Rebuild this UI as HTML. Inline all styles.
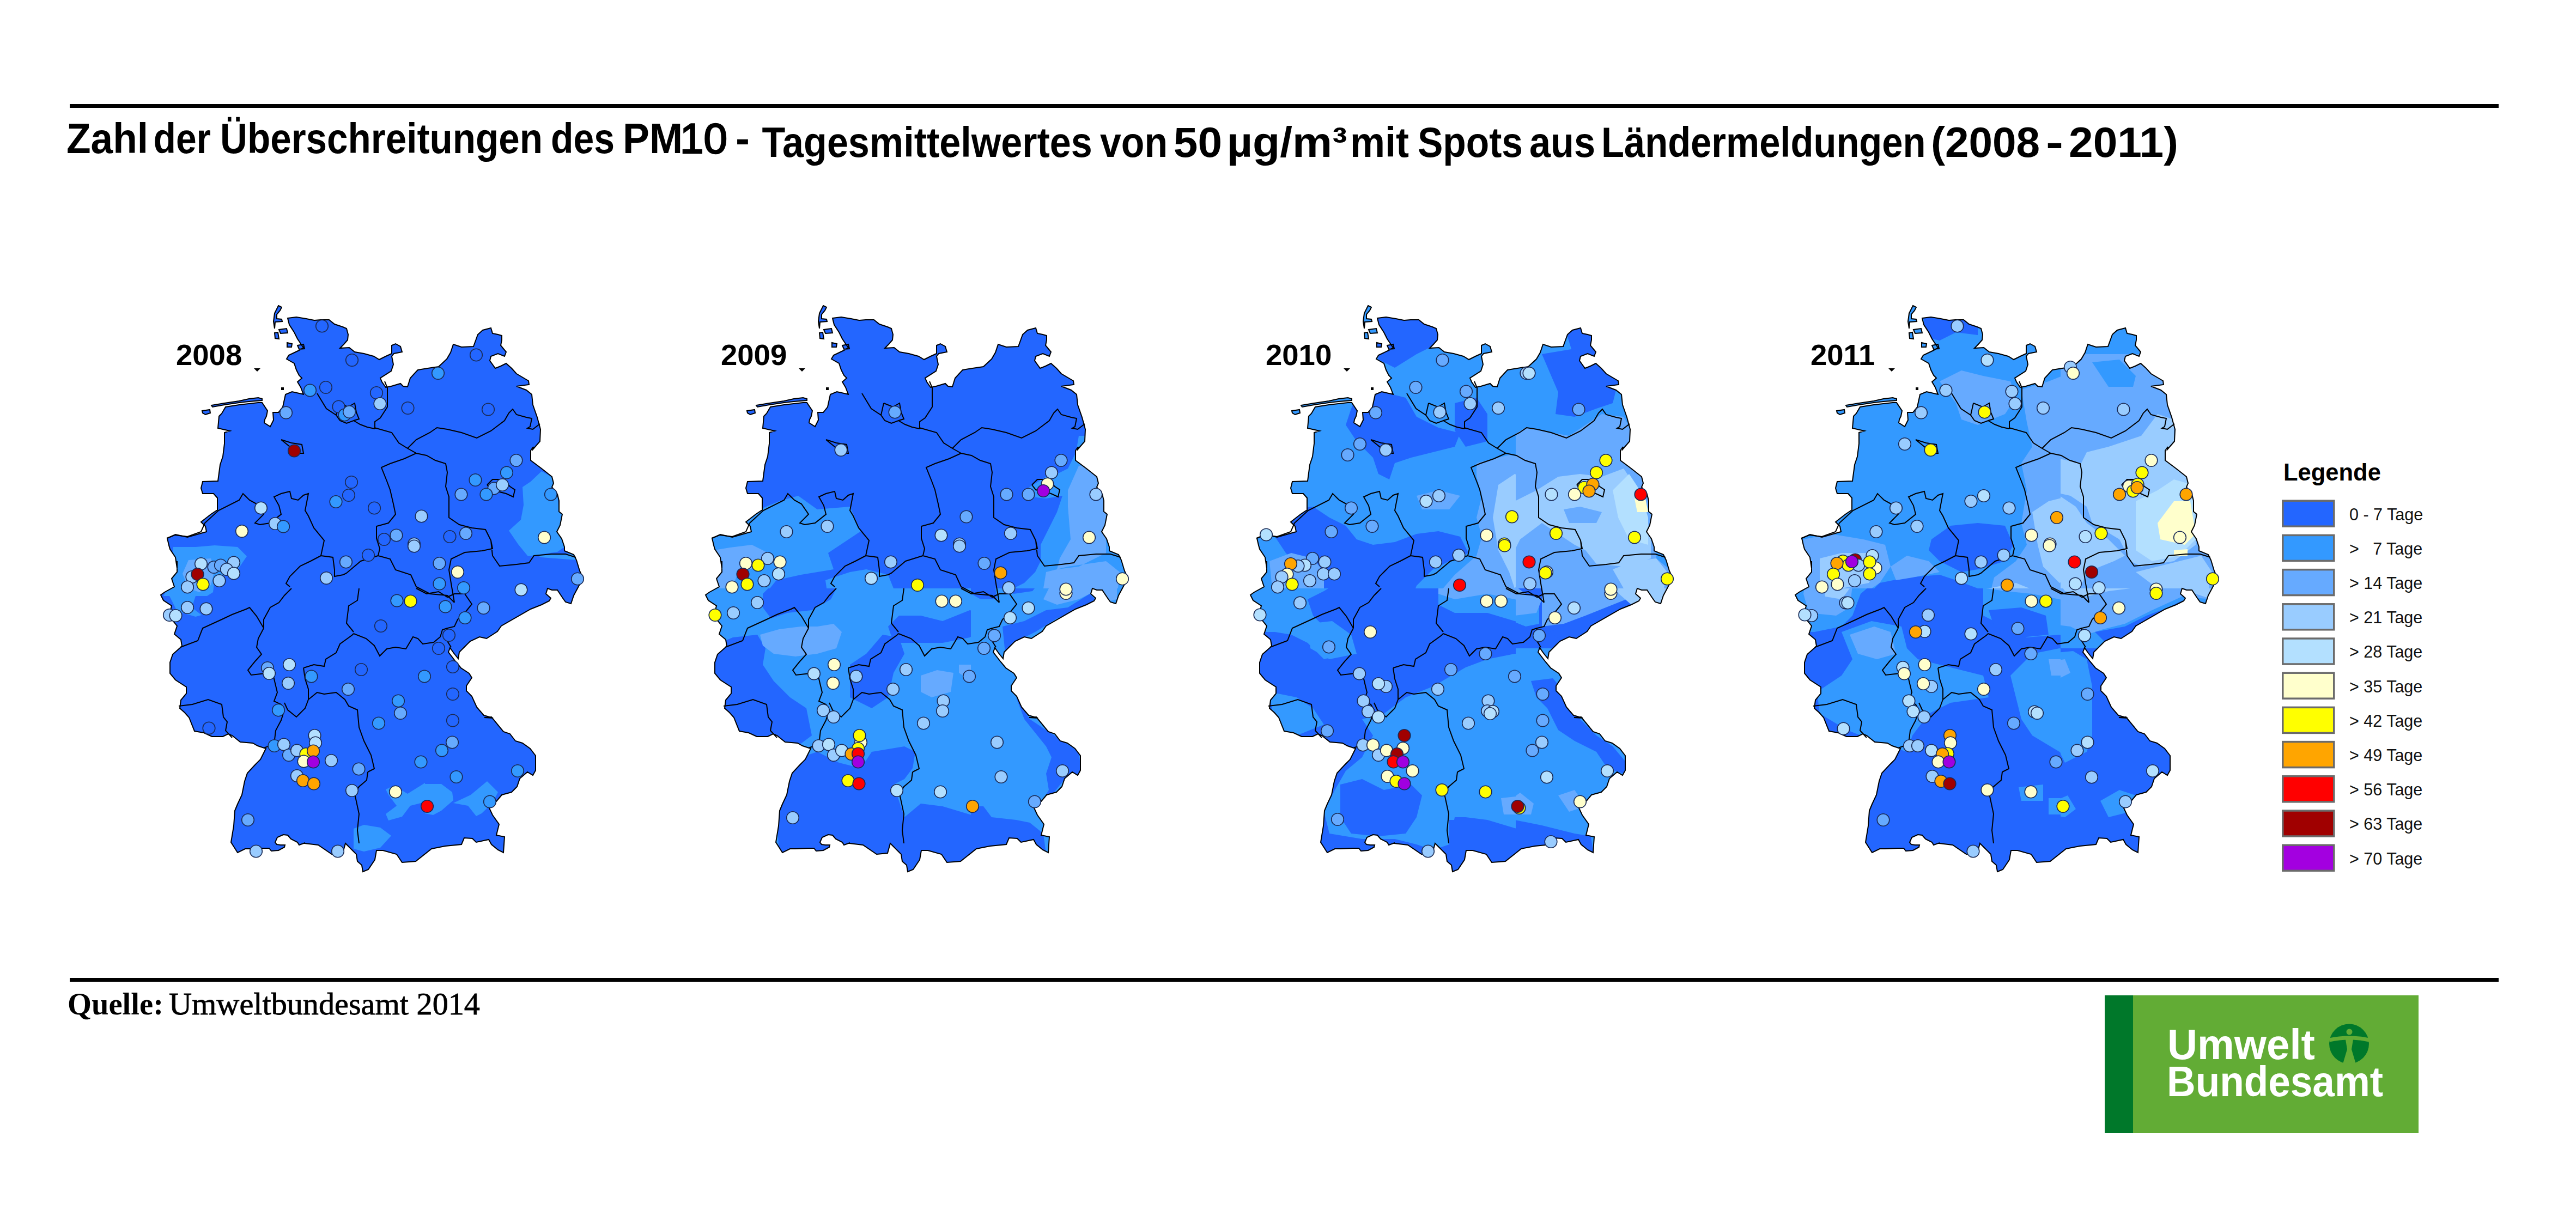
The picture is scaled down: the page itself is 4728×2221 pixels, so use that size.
<!DOCTYPE html><html><head><meta charset="utf-8"><style>
html,body{margin:0;padding:0;background:#fff;width:4728px;height:2221px;overflow:hidden}
svg{position:absolute;left:0;top:0}
</style></head><body>
<svg width="4728" height="2221" viewBox="0 0 4728 2221">
<rect x="128" y="191" width="4458" height="7" fill="#000"/>
<rect x="128" y="1795" width="4458" height="7" fill="#000"/>
<text x="122.0" y="281" textLength="150.0" lengthAdjust="spacingAndGlyphs" font-size="78" font-weight="bold" font-family="Liberation Sans">Zahl</text>
<text x="281.5" y="281" textLength="105.5" lengthAdjust="spacingAndGlyphs" font-size="78" font-weight="bold" font-family="Liberation Sans">der</text>
<text x="404.0" y="281" textLength="592.0" lengthAdjust="spacingAndGlyphs" font-size="78" font-weight="bold" font-family="Liberation Sans">Überschreitungen</text>
<text x="1011.0" y="281" textLength="117.0" lengthAdjust="spacingAndGlyphs" font-size="78" font-weight="bold" font-family="Liberation Sans">des</text>
<text x="1143.0" y="281" textLength="110.0" lengthAdjust="spacingAndGlyphs" font-size="78" font-weight="bold" font-family="Liberation Sans">PM</text>
<text x="1248.0" y="281" textLength="87.0" lengthAdjust="spacingAndGlyphs" font-size="78" font-weight="normal" font-family="Liberation Sans" stroke="#000" stroke-width="2.5">10</text>
<text x="1350.0" y="281" textLength="26.0" lengthAdjust="spacingAndGlyphs" font-size="78" font-weight="bold" font-family="Liberation Sans">-</text>
<text x="1398.5" y="288" textLength="606.3" lengthAdjust="spacingAndGlyphs" font-size="78" font-weight="bold" font-family="Liberation Sans">Tagesmittelwertes</text>
<text x="2019.0" y="288" textLength="124.0" lengthAdjust="spacingAndGlyphs" font-size="78" font-weight="bold" font-family="Liberation Sans">von</text>
<text x="2153.8" y="288" textLength="89.2" lengthAdjust="spacingAndGlyphs" font-size="78" font-weight="bold" font-family="Liberation Sans">50</text>
<text x="2251.8" y="288" textLength="220.7" lengthAdjust="spacingAndGlyphs" font-size="78" font-weight="bold" font-family="Liberation Sans">µg/m³</text>
<text x="2478.0" y="288" textLength="108.0" lengthAdjust="spacingAndGlyphs" font-size="78" font-weight="bold" font-family="Liberation Sans">mit</text>
<text x="2602.0" y="288" textLength="193.0" lengthAdjust="spacingAndGlyphs" font-size="78" font-weight="bold" font-family="Liberation Sans">Spots</text>
<text x="2807.0" y="288" textLength="121.0" lengthAdjust="spacingAndGlyphs" font-size="78" font-weight="bold" font-family="Liberation Sans">aus</text>
<text x="2939.0" y="288" textLength="595.5" lengthAdjust="spacingAndGlyphs" font-size="78" font-weight="bold" font-family="Liberation Sans">Ländermeldungen</text>
<text x="3544.0" y="288" textLength="200.0" lengthAdjust="spacingAndGlyphs" font-size="78" font-weight="bold" font-family="Liberation Sans">(2008</text>
<text x="3755.0" y="288" textLength="32.0" lengthAdjust="spacingAndGlyphs" font-size="78" font-weight="bold" font-family="Liberation Sans">-</text>
<text x="3797.0" y="288" textLength="201.0" lengthAdjust="spacingAndGlyphs" font-size="78" font-weight="bold" font-family="Liberation Sans">2011)</text>

<defs><clipPath id="de"><path d="M528,584 L544,582 L562,585 L577,588 L589,587 L604,587 L614,595 L629,600 L636,603 L639,614 L638,624 L631,632 L624,639 L641,638 L651,646 L668,649 L686,654 L696,660 L708,654 L719,649 L719,634 L726,631 L735,636 L738,646 L723,649 L719,654 L722,669 L718,681 L698,694 L701,701 L708,711 L718,709 L735,704 L740,709 L748,710 L753,694 L765,681 L767,679 L785,676 L805,673 L820,659 L827,647 L832,632 L847,637 L869,636 L877,614 L886,606 L901,602 L904,612 L914,614 L921,616 L921,624 L919,634 L929,646 L926,654 L914,649 L901,654 L899,662 L909,676 L919,672 L929,667 L939,676 L948,686 L970,699 L971,706 L948,709 L966,716 L976,724 L978,743 L986,766 L992,788 L991,810 L978,825 L979,820 L974,827 L974,845 L994,860 L1013,875 L1016,887 L1013,894 L1023,907 L1026,919 L1026,939 L1032,944 L1028,964 L1022,976 L1031,989 L1036,1004 L1036,1011 L1053,1018 L1058,1028 L1064,1048 L1070,1061 L1061,1078 L1053,1093 L1048,1108 L1038,1105 L1033,1098 L1023,1083 L1013,1083 L1005,1080 L1002,1090 L1011,1098 L1008,1103 L994,1110 L974,1118 L920,1149 L913,1159 L893,1172 L880,1169 L863,1177 L853,1187 L843,1197 L841,1209 L833,1199 L826,1189 L823,1197 L836,1214 L846,1226 L861,1236 L866,1244 L856,1259 L856,1268 L866,1278 L875,1298 L888,1313 L905,1318 L889,1317 L902,1316 L924,1343 L936,1347 L946,1360 L959,1364 L973,1374 L983,1387 L983,1414 L978,1423 L968,1417 L954,1429 L949,1444 L939,1454 L921,1459 L911,1471 L897,1481 L904,1496 L916,1513 L911,1533 L926,1536 L924,1565 L914,1560 L902,1550 L897,1541 L874,1546 L867,1539 L852,1538 L847,1550 L817,1553 L792,1558 L763,1581 L738,1583 L728,1568 L703,1561 L691,1561 L688,1578 L676,1596 L666,1600 L664,1588 L656,1581 L654,1568 L634,1548 L629,1566 L609,1568 L584,1551 L559,1548 L560,1547 L549,1551 L546,1546 L534,1540 L528,1533 L520,1532 L509,1537 L505,1546 L508,1550 L515,1551 L523,1551 L522,1555 L511,1561 L498,1562 L494,1557 L483,1557 L459,1558 L450,1558 L436,1565 L431,1557 L424,1546 L429,1516 L431,1488 L436,1476 L444,1459 L449,1434 L454,1419 L468,1404 L478,1394 L488,1374 L473,1369 L464,1364 L441,1362 L426,1350 L419,1347 L409,1352 L389,1352 L374,1345 L357,1342 L347,1317 L339,1308 L330,1300 L332,1285 L342,1273 L342,1261 L322,1248 L312,1236 L312,1216 L317,1201 L325,1194 L334,1186 L332,1174 L320,1164 L325,1149 L317,1139 L312,1124 L315,1112 L300,1102 L295,1092 L302,1087 L320,1077 L315,1062 L325,1050 L325,1030 L325,1043 L322,1023 L312,1008 L310,1001 L307,988 L322,981 L344,986 L372,978 L379,976 L377,966 L369,958 L387,944 L399,936 L399,914 L392,906 L372,906 L369,896 L372,884 L400,883 L404,853 L409,838 L412,814 L412,794 L422,791 L400,786 L402,764 L407,759 L414,747 L439,743 L474,739 L481,739 L491,754 L489,764 L486,770 L485,776 L496,783 L502,771 L501,757 L511,757 L519,747 L524,724 L536,719 L558,724 L557,724 L552,711 L546,701 L554,694 L549,689 L544,679 L540,667 L526,659 L530,652 L549,643 L557,638 L554,634 L546,622 L540,610 L531,596ZM511,561 L517,564 L514,570 L508,577 L508,585 L517,586 L518,590 L505,591 L504,603 L502,590 L504,575ZM512,605 L526,603 L528,611 L515,612ZM504,611 L510,610 L512,622 L505,621ZM527,629 L536,631 L535,637 L527,637ZM546,634 L557,632 L559,640 L549,641ZM388,744 L412,740 L439,736 L457,732 L474,730 L481,732 L481,735 L457,737 L439,739 L412,743 L390,747ZM371,754 L385,752 L386,758 L377,761 L372,758Z"/></clipPath><clipPath id="c0_0"><rect x="0" y="0" width="782" height="1080"/></clipPath><clipPath id="c0_1080"><rect x="0" y="1080" width="782" height="920"/></clipPath><clipPath id="c782_0"><rect x="782" y="0" width="518" height="1080"/></clipPath><clipPath id="c782_1080"><rect x="782" y="1080" width="518" height="920"/></clipPath></defs><g transform="translate(0,0)"><path d="M466,676 L478,676 L472,682Z M516,711 L521,711 L521,716 L516,716Z" fill="#000"/><path d="M528,584 L544,582 L562,585 L577,588 L589,587 L604,587 L614,595 L629,600 L636,603 L639,614 L638,624 L631,632 L624,639 L641,638 L651,646 L668,649 L686,654 L696,660 L708,654 L719,649 L719,634 L726,631 L735,636 L738,646 L723,649 L719,654 L722,669 L718,681 L698,694 L701,701 L708,711 L718,709 L735,704 L740,709 L748,710 L753,694 L765,681 L767,679 L785,676 L805,673 L820,659 L827,647 L832,632 L847,637 L869,636 L877,614 L886,606 L901,602 L904,612 L914,614 L921,616 L921,624 L919,634 L929,646 L926,654 L914,649 L901,654 L899,662 L909,676 L919,672 L929,667 L939,676 L948,686 L970,699 L971,706 L948,709 L966,716 L976,724 L978,743 L986,766 L992,788 L991,810 L978,825 L979,820 L974,827 L974,845 L994,860 L1013,875 L1016,887 L1013,894 L1023,907 L1026,919 L1026,939 L1032,944 L1028,964 L1022,976 L1031,989 L1036,1004 L1036,1011 L1053,1018 L1058,1028 L1064,1048 L1070,1061 L1061,1078 L1053,1093 L1048,1108 L1038,1105 L1033,1098 L1023,1083 L1013,1083 L1005,1080 L1002,1090 L1011,1098 L1008,1103 L994,1110 L974,1118 L920,1149 L913,1159 L893,1172 L880,1169 L863,1177 L853,1187 L843,1197 L841,1209 L833,1199 L826,1189 L823,1197 L836,1214 L846,1226 L861,1236 L866,1244 L856,1259 L856,1268 L866,1278 L875,1298 L888,1313 L905,1318 L889,1317 L902,1316 L924,1343 L936,1347 L946,1360 L959,1364 L973,1374 L983,1387 L983,1414 L978,1423 L968,1417 L954,1429 L949,1444 L939,1454 L921,1459 L911,1471 L897,1481 L904,1496 L916,1513 L911,1533 L926,1536 L924,1565 L914,1560 L902,1550 L897,1541 L874,1546 L867,1539 L852,1538 L847,1550 L817,1553 L792,1558 L763,1581 L738,1583 L728,1568 L703,1561 L691,1561 L688,1578 L676,1596 L666,1600 L664,1588 L656,1581 L654,1568 L634,1548 L629,1566 L609,1568 L584,1551 L559,1548 L560,1547 L549,1551 L546,1546 L534,1540 L528,1533 L520,1532 L509,1537 L505,1546 L508,1550 L515,1551 L523,1551 L522,1555 L511,1561 L498,1562 L494,1557 L483,1557 L459,1558 L450,1558 L436,1565 L431,1557 L424,1546 L429,1516 L431,1488 L436,1476 L444,1459 L449,1434 L454,1419 L468,1404 L478,1394 L488,1374 L473,1369 L464,1364 L441,1362 L426,1350 L419,1347 L409,1352 L389,1352 L374,1345 L357,1342 L347,1317 L339,1308 L330,1300 L332,1285 L342,1273 L342,1261 L322,1248 L312,1236 L312,1216 L317,1201 L325,1194 L334,1186 L332,1174 L320,1164 L325,1149 L317,1139 L312,1124 L315,1112 L300,1102 L295,1092 L302,1087 L320,1077 L315,1062 L325,1050 L325,1030 L325,1043 L322,1023 L312,1008 L310,1001 L307,988 L322,981 L344,986 L372,978 L379,976 L377,966 L369,958 L387,944 L399,936 L399,914 L392,906 L372,906 L369,896 L372,884 L400,883 L404,853 L409,838 L412,814 L412,794 L422,791 L400,786 L402,764 L407,759 L414,747 L439,743 L474,739 L481,739 L491,754 L489,764 L486,770 L485,776 L496,783 L502,771 L501,757 L511,757 L519,747 L524,724 L536,719 L558,724 L557,724 L552,711 L546,701 L554,694 L549,689 L544,679 L540,667 L526,659 L530,652 L549,643 L557,638 L554,634 L546,622 L540,610 L531,596ZM511,561 L517,564 L514,570 L508,577 L508,585 L517,586 L518,590 L505,591 L504,603 L502,590 L504,575ZM512,605 L526,603 L528,611 L515,612ZM504,611 L510,610 L512,622 L505,621ZM527,629 L536,631 L535,637 L527,637ZM546,634 L557,632 L559,640 L549,641ZM388,744 L412,740 L439,736 L457,732 L474,730 L481,732 L481,735 L457,737 L439,739 L412,743 L390,747ZM371,754 L385,752 L386,758 L377,761 L372,758Z" fill="#2366ff"/><g clip-path="url(#de)"><path d="M318,1004 L359,1004 L394,1001 L436,1004 L453,1021 L436,1046 L394,1063 L391,1087 L380,1094 L359,1094 L352,1115 L370,1129 L359,1132 L325,1122 L311,1094 L300,1094 L311,1074Z" fill="#3399ff"/><path d="M346,1028 L387,1025 L394,1046 L387,1074 L366,1087 L346,1080 L335,1053Z" fill="#66aaff"/><path d="M994,865 L1016,877 L1023,907 L1026,939 L1031,944 L1028,964 L1021,976 L1031,989 L1036,1004 L1023,1013 L969,1021 L951,999 L934,974 L956,954 L961,927 L959,894 L974,884ZM981,1018 L1053,1016 L1058,1028 L994,1023Z" fill="#3399ff"/><path d="M780,1439 L810,1439 L830,1454 L832,1469 L810,1488 L795,1496 L780,1493ZM832,1474 L864,1459 L894,1434 L914,1454 L904,1474 L884,1493 L874,1498 L859,1479Z" fill="#3399ff"/><path d="M649,1521 L668,1514 L698,1519 L718,1534 L698,1556 L668,1563 L649,1558ZM708,1449 L723,1442 L748,1457 L780,1437 L780,1472 L753,1479 L738,1499 L713,1506 L708,1494 L728,1479 L713,1459Z" fill="#3399ff"/></g><path d="M528,584 L544,582 L562,585 L577,588 L589,587 L604,587 L614,595 L629,600 L636,603 L639,614 L638,624 L631,632 L624,639 L641,638 L651,646 L668,649 L686,654 L696,660 L708,654 L719,649 L719,634 L726,631 L735,636 L738,646 L723,649 L719,654 L722,669 L718,681 L698,694 L701,701 L708,711 L718,709 L735,704 L740,709 L748,710 L753,694 L765,681 L767,679 L785,676 L805,673 L820,659 L827,647 L832,632 L847,637 L869,636 L877,614 L886,606 L901,602 L904,612 L914,614 L921,616 L921,624 L919,634 L929,646 L926,654 L914,649 L901,654 L899,662 L909,676 L919,672 L929,667 L939,676 L948,686 L970,699 L971,706 L948,709 L966,716 L976,724 L978,743 L986,766 L992,788 L991,810 L978,825 L979,820 L974,827 L974,845 L994,860 L1013,875 L1016,887 L1013,894 L1023,907 L1026,919 L1026,939 L1032,944 L1028,964 L1022,976 L1031,989 L1036,1004 L1036,1011 L1053,1018 L1058,1028 L1064,1048 L1070,1061 L1061,1078 L1053,1093 L1048,1108 L1038,1105 L1033,1098 L1023,1083 L1013,1083 L1005,1080 L1002,1090 L1011,1098 L1008,1103 L994,1110 L974,1118 L920,1149 L913,1159 L893,1172 L880,1169 L863,1177 L853,1187 L843,1197 L841,1209 L833,1199 L826,1189 L823,1197 L836,1214 L846,1226 L861,1236 L866,1244 L856,1259 L856,1268 L866,1278 L875,1298 L888,1313 L905,1318 L889,1317 L902,1316 L924,1343 L936,1347 L946,1360 L959,1364 L973,1374 L983,1387 L983,1414 L978,1423 L968,1417 L954,1429 L949,1444 L939,1454 L921,1459 L911,1471 L897,1481 L904,1496 L916,1513 L911,1533 L926,1536 L924,1565 L914,1560 L902,1550 L897,1541 L874,1546 L867,1539 L852,1538 L847,1550 L817,1553 L792,1558 L763,1581 L738,1583 L728,1568 L703,1561 L691,1561 L688,1578 L676,1596 L666,1600 L664,1588 L656,1581 L654,1568 L634,1548 L629,1566 L609,1568 L584,1551 L559,1548 L560,1547 L549,1551 L546,1546 L534,1540 L528,1533 L520,1532 L509,1537 L505,1546 L508,1550 L515,1551 L523,1551 L522,1555 L511,1561 L498,1562 L494,1557 L483,1557 L459,1558 L450,1558 L436,1565 L431,1557 L424,1546 L429,1516 L431,1488 L436,1476 L444,1459 L449,1434 L454,1419 L468,1404 L478,1394 L488,1374 L473,1369 L464,1364 L441,1362 L426,1350 L419,1347 L409,1352 L389,1352 L374,1345 L357,1342 L347,1317 L339,1308 L330,1300 L332,1285 L342,1273 L342,1261 L322,1248 L312,1236 L312,1216 L317,1201 L325,1194 L334,1186 L332,1174 L320,1164 L325,1149 L317,1139 L312,1124 L315,1112 L300,1102 L295,1092 L302,1087 L320,1077 L315,1062 L325,1050 L325,1030 L325,1043 L322,1023 L312,1008 L310,1001 L307,988 L322,981 L344,986 L372,978 L379,976 L377,966 L369,958 L387,944 L399,936 L399,914 L392,906 L372,906 L369,896 L372,884 L400,883 L404,853 L409,838 L412,814 L412,794 L422,791 L400,786 L402,764 L407,759 L414,747 L439,743 L474,739 L481,739 L491,754 L489,764 L486,770 L485,776 L496,783 L502,771 L501,757 L511,757 L519,747 L524,724 L536,719 L558,724 L557,724 L552,711 L546,701 L554,694 L549,689 L544,679 L540,667 L526,659 L530,652 L549,643 L557,638 L554,634 L546,622 L540,610 L531,596ZM511,561 L517,564 L514,570 L508,577 L508,585 L517,586 L518,590 L505,591 L504,603 L502,590 L504,575ZM512,605 L526,603 L528,611 L515,612ZM504,611 L510,610 L512,622 L505,621ZM527,629 L536,631 L535,637 L527,637ZM546,634 L557,632 L559,640 L549,641ZM388,744 L412,740 L439,736 L457,732 L474,730 L481,732 L481,735 L457,737 L439,739 L412,743 L390,747ZM371,754 L385,752 L386,758 L377,761 L372,758Z" fill="none" stroke="#000" stroke-width="2"/><path d="M582,722 L599,750 L617,762 L624,772 L636,777 L649,772 L661,779 L674,784 L688,787M622,740 L639,747 L651,740 L654,757 L659,769 L649,772M622,740 L617,762M688,787 L688,774 L698,767 L711,747 L711,712 L706,700M687,785 L719,794 L732,813 L748,823 L764,832M748,823 L764,807 L789,794 L802,785 L821,788 L847,794 L875,804 L901,791 L926,772 L934,758 L941,751 L948,761 L966,766 L976,768 L973,783 L968,786 L978,788 L991,778M306,988 L321,982 L344,985 L369,976 L376,960 L401,937 L439,918 L446,906 L458,918 L471,925 L484,944 L468,960 L477,963 L496,960 L516,944 L512,928 L503,912 L516,906 L532,902 L535,915 L547,918 L557,909 L566,906 L560,937 L566,947 L576,969 L595,992 L589,1020M516,807 L535,813 L554,816 L557,832 L541,832 L532,820 L516,807M589,1020 L570,1030 L551,1039 L532,1058 L525,1071 L532,1077M589,1020 L611,1023 L614,1046 L614,1058 L630,1055M764,832 L742,842 L716,851 L700,858 L710,883 L716,899 L722,925 L726,944 L713,960 L691,966 L691,988 L697,1007 L694,1020M694,1020 L662,1030 L636,1052 L630,1055M694,1020 L716,1026 L726,1046 L754,1055 L764,1077 L789,1090 L821,1093 L834,1106M901,992 L904,1007 L885,1011 L853,1014 L828,1026 L824,1046 L828,1071 L834,1106M764,832 L783,836 L799,845 L818,851 L821,867 L818,893 L824,912 L824,931 L824,950 L843,963 L866,969 L891,972 L901,992M901,992 L904,1020 L917,1039 L948,1036 L971,1033 L980,1020 L1012,1017 L1038,1017 L1057,1023M894,890 L904,880 L923,880 L936,893 L945,899 L942,912 L929,906 L913,902 L901,899 L894,890M331,1188 L363,1176 L372,1153 L407,1137 L426,1128 L452,1118 L458,1115 L471,1131 L484,1153M535,1080 L522,1093 L512,1106 L496,1115 L484,1137 L484,1153M484,1153 L474,1172 L471,1188 L480,1201 L468,1214 L455,1230 L461,1239 L487,1236 L500,1233 L503,1246 L509,1271 L503,1287 L516,1293 L522,1303 L516,1322 L506,1341 L503,1366 L484,1373M522,1290 L528,1303 L544,1316 L560,1300 L566,1284 L582,1271 L595,1274M557,1226 L560,1246 L566,1265 L566,1284M557,1226 L576,1220 L595,1223 L598,1210 L617,1198 L624,1182 L646,1166 L649,1163M649,1163 L672,1172 L687,1185 L697,1204 L710,1191 L726,1188 L745,1191 L758,1169 L767,1172 L776,1182 L796,1179 L808,1169 L812,1156 L821,1153M659,1080 L656,1102 L640,1112 L636,1144 L649,1160M595,1274 L617,1271 L633,1284 L640,1296 L656,1303 L659,1335 L668,1360 L681,1386 L687,1411 L675,1417M675,1417 L673,1432 L659,1444 L651,1457 L659,1494 L656,1524 L659,1548M328,1296 L353,1293 L382,1284 L407,1293 L410,1316 L417,1325 L414,1341 L426,1354M764,1080 L783,1090 L805,1086 L821,1096 L834,1090 L853,1090 L866,1109 L853,1125 L840,1137 L834,1150 L821,1153 L818,1172 L828,1188" fill="none" stroke="#000" stroke-width="2"/><circle cx="591.0" cy="598.5" r="11.3" fill="#2366ff" stroke="#1a2a55" stroke-width="1.6"/><circle cx="646.0" cy="661.0" r="11.3" fill="#2366ff" stroke="#1a2a55" stroke-width="1.6"/><circle cx="569.0" cy="716.5" r="11.3" fill="#3399ff" stroke="#1a2a55" stroke-width="1.6"/><circle cx="598.0" cy="711.0" r="11.3" fill="#2366ff" stroke="#1a2a55" stroke-width="1.6"/><circle cx="621.5" cy="746.5" r="11.3" fill="#2366ff" stroke="#1a2a55" stroke-width="1.6"/><circle cx="632.5" cy="761.5" r="11.3" fill="#3399ff" stroke="#1a2a55" stroke-width="1.6"/><circle cx="641.0" cy="756.0" r="11.3" fill="#66aaff" stroke="#1a2a55" stroke-width="1.6"/><circle cx="525.0" cy="757.5" r="11.3" fill="#66aaff" stroke="#1a2a55" stroke-width="1.6"/><circle cx="540.0" cy="827.5" r="11.3" fill="#a00000" stroke="#1a2a55" stroke-width="1.6"/><circle cx="645.0" cy="885.0" r="11.3" fill="#2366ff" stroke="#1a2a55" stroke-width="1.6"/><circle cx="640.0" cy="909.0" r="11.3" fill="#2366ff" stroke="#1a2a55" stroke-width="1.6"/><circle cx="616.5" cy="921.0" r="11.3" fill="#3399ff" stroke="#1a2a55" stroke-width="1.6"/><circle cx="479.0" cy="932.5" r="11.3" fill="#b3e0ff" stroke="#1a2a55" stroke-width="1.6"/><circle cx="505.0" cy="961.0" r="11.3" fill="#99ccff" stroke="#1a2a55" stroke-width="1.6"/><circle cx="520.0" cy="966.5" r="11.3" fill="#3399ff" stroke="#1a2a55" stroke-width="1.6"/><circle cx="444.0" cy="975.0" r="11.3" fill="#ffffcc" stroke="#1a2a55" stroke-width="1.6"/><circle cx="874.0" cy="651.5" r="11.3" fill="#2366ff" stroke="#1a2a55" stroke-width="1.6"/><circle cx="804.0" cy="685.0" r="11.3" fill="#3399ff" stroke="#1a2a55" stroke-width="1.6"/><circle cx="691.0" cy="721.0" r="11.3" fill="#2366ff" stroke="#1a2a55" stroke-width="1.6"/><circle cx="697.5" cy="741.0" r="11.3" fill="#99ccff" stroke="#1a2a55" stroke-width="1.6"/><circle cx="748.5" cy="749.0" r="11.3" fill="#2366ff" stroke="#1a2a55" stroke-width="1.6"/><circle cx="896.0" cy="751.5" r="11.3" fill="#2366ff" stroke="#1a2a55" stroke-width="1.6"/><circle cx="947.5" cy="845.0" r="11.3" fill="#66aaff" stroke="#1a2a55" stroke-width="1.6"/><circle cx="930.0" cy="867.5" r="11.3" fill="#3399ff" stroke="#1a2a55" stroke-width="1.6"/><circle cx="872.5" cy="881.0" r="11.3" fill="#3399ff" stroke="#1a2a55" stroke-width="1.6"/><circle cx="906.5" cy="896.5" r="11.3" fill="#66aaff" stroke="#1a2a55" stroke-width="1.6"/><circle cx="922.0" cy="890.0" r="11.3" fill="#99ccff" stroke="#1a2a55" stroke-width="1.6"/><circle cx="892.5" cy="907.5" r="11.3" fill="#3399ff" stroke="#1a2a55" stroke-width="1.6"/><circle cx="846.5" cy="907.5" r="11.3" fill="#66aaff" stroke="#1a2a55" stroke-width="1.6"/><circle cx="1011.0" cy="907.5" r="11.3" fill="#3399ff" stroke="#1a2a55" stroke-width="1.6"/><circle cx="687.0" cy="932.5" r="11.3" fill="#2366ff" stroke="#1a2a55" stroke-width="1.6"/><circle cx="773.5" cy="947.5" r="11.3" fill="#99ccff" stroke="#1a2a55" stroke-width="1.6"/><circle cx="727.5" cy="982.5" r="11.3" fill="#66aaff" stroke="#1a2a55" stroke-width="1.6"/><circle cx="705.0" cy="990.0" r="11.3" fill="#2366ff" stroke="#1a2a55" stroke-width="1.6"/><circle cx="760.0" cy="998.5" r="11.3" fill="#99ccff" stroke="#1a2a55" stroke-width="1.6"/><circle cx="825.5" cy="985.0" r="11.3" fill="#2366ff" stroke="#1a2a55" stroke-width="1.6"/><circle cx="855.0" cy="979.0" r="11.3" fill="#66aaff" stroke="#1a2a55" stroke-width="1.6"/><circle cx="999.0" cy="986.5" r="11.3" fill="#ffffcc" stroke="#1a2a55" stroke-width="1.6"/><circle cx="369.0" cy="1035.0" r="11.3" fill="#b3e0ff" stroke="#1a2a55" stroke-width="1.6"/><circle cx="392.5" cy="1041.0" r="11.3" fill="#66aaff" stroke="#1a2a55" stroke-width="1.6"/><circle cx="405.0" cy="1037.5" r="11.3" fill="#66aaff" stroke="#1a2a55" stroke-width="1.6"/><circle cx="429.0" cy="1032.5" r="11.3" fill="#99ccff" stroke="#1a2a55" stroke-width="1.6"/><circle cx="416.0" cy="1045.0" r="11.3" fill="#99ccff" stroke="#1a2a55" stroke-width="1.6"/><circle cx="429.0" cy="1052.5" r="11.3" fill="#b3e0ff" stroke="#1a2a55" stroke-width="1.6"/><circle cx="352.5" cy="1059.0" r="11.3" fill="#99ccff" stroke="#1a2a55" stroke-width="1.6"/><circle cx="362.5" cy="1054.0" r="11.3" fill="#a00000" stroke="#1a2a55" stroke-width="1.6"/><circle cx="372.5" cy="1072.5" r="11.3" fill="#ffff00" stroke="#1a2a55" stroke-width="1.6"/><circle cx="344.0" cy="1077.5" r="11.3" fill="#99ccff" stroke="#1a2a55" stroke-width="1.6"/><circle cx="402.5" cy="1066.0" r="11.3" fill="#99ccff" stroke="#1a2a55" stroke-width="1.6"/><circle cx="344.0" cy="1115.0" r="11.3" fill="#99ccff" stroke="#1a2a55" stroke-width="1.6"/><circle cx="378.5" cy="1117.5" r="11.3" fill="#99ccff" stroke="#1a2a55" stroke-width="1.6"/><circle cx="311.0" cy="1129.0" r="11.3" fill="#99ccff" stroke="#1a2a55" stroke-width="1.6"/><circle cx="322.5" cy="1130.0" r="11.3" fill="#b3e0ff" stroke="#1a2a55" stroke-width="1.6"/><circle cx="599.0" cy="1061.0" r="11.3" fill="#99ccff" stroke="#1a2a55" stroke-width="1.6"/><circle cx="635.0" cy="1031.5" r="11.3" fill="#66aaff" stroke="#1a2a55" stroke-width="1.6"/><circle cx="676.0" cy="1019.0" r="11.3" fill="#2366ff" stroke="#1a2a55" stroke-width="1.6"/><circle cx="491.0" cy="1226.0" r="11.3" fill="#66aaff" stroke="#1a2a55" stroke-width="1.6"/><circle cx="494.0" cy="1236.0" r="11.3" fill="#b3e0ff" stroke="#1a2a55" stroke-width="1.6"/><circle cx="531.0" cy="1220.0" r="11.3" fill="#b3e0ff" stroke="#1a2a55" stroke-width="1.6"/><circle cx="529.0" cy="1254.0" r="11.3" fill="#99ccff" stroke="#1a2a55" stroke-width="1.6"/><circle cx="571.5" cy="1241.5" r="11.3" fill="#3399ff" stroke="#1a2a55" stroke-width="1.6"/><circle cx="639.0" cy="1265.0" r="11.3" fill="#66aaff" stroke="#1a2a55" stroke-width="1.6"/><circle cx="511.0" cy="1303.5" r="11.3" fill="#3399ff" stroke="#1a2a55" stroke-width="1.6"/><circle cx="383.5" cy="1336.5" r="11.3" fill="#2366ff" stroke="#1a2a55" stroke-width="1.6"/><circle cx="663.0" cy="1229.0" r="11.3" fill="#2366ff" stroke="#1a2a55" stroke-width="1.6"/><circle cx="577.5" cy="1350.0" r="11.3" fill="#b3e0ff" stroke="#1a2a55" stroke-width="1.6"/><circle cx="579.0" cy="1363.5" r="11.3" fill="#b3e0ff" stroke="#1a2a55" stroke-width="1.6"/><circle cx="503.5" cy="1369.0" r="11.3" fill="#3399ff" stroke="#1a2a55" stroke-width="1.6"/><circle cx="521.0" cy="1366.5" r="11.3" fill="#99ccff" stroke="#1a2a55" stroke-width="1.6"/><circle cx="530.0" cy="1386.0" r="11.3" fill="#66aaff" stroke="#1a2a55" stroke-width="1.6"/><circle cx="545.0" cy="1377.5" r="11.3" fill="#99ccff" stroke="#1a2a55" stroke-width="1.6"/><circle cx="561.5" cy="1384.0" r="11.3" fill="#ffff00" stroke="#1a2a55" stroke-width="1.6"/><circle cx="557.5" cy="1397.5" r="11.3" fill="#ffffcc" stroke="#1a2a55" stroke-width="1.6"/><circle cx="575.0" cy="1378.5" r="11.3" fill="#ffa500" stroke="#1a2a55" stroke-width="1.6"/><circle cx="575.0" cy="1398.5" r="11.3" fill="#a000e0" stroke="#1a2a55" stroke-width="1.6"/><circle cx="608.0" cy="1396.0" r="11.3" fill="#99ccff" stroke="#1a2a55" stroke-width="1.6"/><circle cx="545.0" cy="1424.0" r="11.3" fill="#99ccff" stroke="#1a2a55" stroke-width="1.6"/><circle cx="556.0" cy="1433.0" r="11.3" fill="#ffa500" stroke="#1a2a55" stroke-width="1.6"/><circle cx="576.0" cy="1438.5" r="11.3" fill="#ffa500" stroke="#1a2a55" stroke-width="1.6"/><circle cx="658.5" cy="1411.5" r="11.3" fill="#66aaff" stroke="#1a2a55" stroke-width="1.6"/><circle cx="646.0" cy="1451.0" r="11.3" fill="#99ccff" stroke="#1a2a55" stroke-width="1.6"/><circle cx="455.0" cy="1505.0" r="11.3" fill="#66aaff" stroke="#1a2a55" stroke-width="1.6"/><circle cx="470.0" cy="1562.5" r="11.3" fill="#99ccff" stroke="#1a2a55" stroke-width="1.6"/><circle cx="620.0" cy="1562.5" r="11.3" fill="#99ccff" stroke="#1a2a55" stroke-width="1.6"/><circle cx="760.0" cy="1002.5" r="11.3" fill="#99ccff" stroke="#1a2a55" stroke-width="1.6"/><circle cx="806.5" cy="1034.0" r="11.3" fill="#66aaff" stroke="#1a2a55" stroke-width="1.6"/><circle cx="840.0" cy="1050.0" r="11.3" fill="#ffffcc" stroke="#1a2a55" stroke-width="1.6"/><circle cx="806.5" cy="1071.5" r="11.3" fill="#3399ff" stroke="#1a2a55" stroke-width="1.6"/><circle cx="851.0" cy="1079.0" r="11.3" fill="#3399ff" stroke="#1a2a55" stroke-width="1.6"/><circle cx="728.5" cy="1102.5" r="11.3" fill="#3399ff" stroke="#1a2a55" stroke-width="1.6"/><circle cx="753.5" cy="1103.5" r="11.3" fill="#ffff00" stroke="#1a2a55" stroke-width="1.6"/><circle cx="817.5" cy="1113.5" r="11.3" fill="#3399ff" stroke="#1a2a55" stroke-width="1.6"/><circle cx="887.5" cy="1116.0" r="11.3" fill="#66aaff" stroke="#1a2a55" stroke-width="1.6"/><circle cx="956.5" cy="1082.5" r="11.3" fill="#b3e0ff" stroke="#1a2a55" stroke-width="1.6"/><circle cx="1060.0" cy="1062.5" r="11.3" fill="#66aaff" stroke="#1a2a55" stroke-width="1.6"/><circle cx="853.5" cy="1134.0" r="11.3" fill="#3399ff" stroke="#1a2a55" stroke-width="1.6"/><circle cx="699.0" cy="1149.0" r="11.3" fill="#2366ff" stroke="#1a2a55" stroke-width="1.6"/><circle cx="824.0" cy="1166.0" r="11.3" fill="#2366ff" stroke="#1a2a55" stroke-width="1.6"/><circle cx="805.0" cy="1190.0" r="11.3" fill="#2366ff" stroke="#1a2a55" stroke-width="1.6"/><circle cx="831.0" cy="1224.0" r="11.3" fill="#2366ff" stroke="#1a2a55" stroke-width="1.6"/><circle cx="779.0" cy="1241.5" r="11.3" fill="#3399ff" stroke="#1a2a55" stroke-width="1.6"/><circle cx="831.0" cy="1274.0" r="11.3" fill="#2366ff" stroke="#1a2a55" stroke-width="1.6"/><circle cx="731.0" cy="1286.5" r="11.3" fill="#3399ff" stroke="#1a2a55" stroke-width="1.6"/><circle cx="735.0" cy="1309.0" r="11.3" fill="#66aaff" stroke="#1a2a55" stroke-width="1.6"/><circle cx="695.0" cy="1327.5" r="11.3" fill="#3399ff" stroke="#1a2a55" stroke-width="1.6"/><circle cx="831.0" cy="1322.5" r="11.3" fill="#2366ff" stroke="#1a2a55" stroke-width="1.6"/><circle cx="830.0" cy="1362.5" r="11.3" fill="#66aaff" stroke="#1a2a55" stroke-width="1.6"/><circle cx="811.0" cy="1377.5" r="11.3" fill="#3399ff" stroke="#1a2a55" stroke-width="1.6"/><circle cx="772.5" cy="1398.5" r="11.3" fill="#3399ff" stroke="#1a2a55" stroke-width="1.6"/><circle cx="837.5" cy="1426.0" r="11.3" fill="#3399ff" stroke="#1a2a55" stroke-width="1.6"/><circle cx="950.0" cy="1415.0" r="11.3" fill="#3399ff" stroke="#1a2a55" stroke-width="1.6"/><circle cx="899.0" cy="1471.5" r="11.3" fill="#3399ff" stroke="#1a2a55" stroke-width="1.6"/><circle cx="726.0" cy="1453.5" r="11.3" fill="#ffffcc" stroke="#1a2a55" stroke-width="1.6"/><circle cx="784.0" cy="1480.0" r="11.3" fill="#ff0000" stroke="#1a2a55" stroke-width="1.6"/></g>
<g transform="translate(1000,0)"><path d="M466,676 L478,676 L472,682Z M516,711 L521,711 L521,716 L516,716Z" fill="#000"/><path d="M528,584 L544,582 L562,585 L577,588 L589,587 L604,587 L614,595 L629,600 L636,603 L639,614 L638,624 L631,632 L624,639 L641,638 L651,646 L668,649 L686,654 L696,660 L708,654 L719,649 L719,634 L726,631 L735,636 L738,646 L723,649 L719,654 L722,669 L718,681 L698,694 L701,701 L708,711 L718,709 L735,704 L740,709 L748,710 L753,694 L765,681 L767,679 L785,676 L805,673 L820,659 L827,647 L832,632 L847,637 L869,636 L877,614 L886,606 L901,602 L904,612 L914,614 L921,616 L921,624 L919,634 L929,646 L926,654 L914,649 L901,654 L899,662 L909,676 L919,672 L929,667 L939,676 L948,686 L970,699 L971,706 L948,709 L966,716 L976,724 L978,743 L986,766 L992,788 L991,810 L978,825 L979,820 L974,827 L974,845 L994,860 L1013,875 L1016,887 L1013,894 L1023,907 L1026,919 L1026,939 L1032,944 L1028,964 L1022,976 L1031,989 L1036,1004 L1036,1011 L1053,1018 L1058,1028 L1064,1048 L1070,1061 L1061,1078 L1053,1093 L1048,1108 L1038,1105 L1033,1098 L1023,1083 L1013,1083 L1005,1080 L1002,1090 L1011,1098 L1008,1103 L994,1110 L974,1118 L920,1149 L913,1159 L893,1172 L880,1169 L863,1177 L853,1187 L843,1197 L841,1209 L833,1199 L826,1189 L823,1197 L836,1214 L846,1226 L861,1236 L866,1244 L856,1259 L856,1268 L866,1278 L875,1298 L888,1313 L905,1318 L889,1317 L902,1316 L924,1343 L936,1347 L946,1360 L959,1364 L973,1374 L983,1387 L983,1414 L978,1423 L968,1417 L954,1429 L949,1444 L939,1454 L921,1459 L911,1471 L897,1481 L904,1496 L916,1513 L911,1533 L926,1536 L924,1565 L914,1560 L902,1550 L897,1541 L874,1546 L867,1539 L852,1538 L847,1550 L817,1553 L792,1558 L763,1581 L738,1583 L728,1568 L703,1561 L691,1561 L688,1578 L676,1596 L666,1600 L664,1588 L656,1581 L654,1568 L634,1548 L629,1566 L609,1568 L584,1551 L559,1548 L560,1547 L549,1551 L546,1546 L534,1540 L528,1533 L520,1532 L509,1537 L505,1546 L508,1550 L515,1551 L523,1551 L522,1555 L511,1561 L498,1562 L494,1557 L483,1557 L459,1558 L450,1558 L436,1565 L431,1557 L424,1546 L429,1516 L431,1488 L436,1476 L444,1459 L449,1434 L454,1419 L468,1404 L478,1394 L488,1374 L473,1369 L464,1364 L441,1362 L426,1350 L419,1347 L409,1352 L389,1352 L374,1345 L357,1342 L347,1317 L339,1308 L330,1300 L332,1285 L342,1273 L342,1261 L322,1248 L312,1236 L312,1216 L317,1201 L325,1194 L334,1186 L332,1174 L320,1164 L325,1149 L317,1139 L312,1124 L315,1112 L300,1102 L295,1092 L302,1087 L320,1077 L315,1062 L325,1050 L325,1030 L325,1043 L322,1023 L312,1008 L310,1001 L307,988 L322,981 L344,986 L372,978 L379,976 L377,966 L369,958 L387,944 L399,936 L399,914 L392,906 L372,906 L369,896 L372,884 L400,883 L404,853 L409,838 L412,814 L412,794 L422,791 L400,786 L402,764 L407,759 L414,747 L439,743 L474,739 L481,739 L491,754 L489,764 L486,770 L485,776 L496,783 L502,771 L501,757 L511,757 L519,747 L524,724 L536,719 L558,724 L557,724 L552,711 L546,701 L554,694 L549,689 L544,679 L540,667 L526,659 L530,652 L549,643 L557,638 L554,634 L546,622 L540,610 L531,596ZM511,561 L517,564 L514,570 L508,577 L508,585 L517,586 L518,590 L505,591 L504,603 L502,590 L504,575ZM512,605 L526,603 L528,611 L515,612ZM504,611 L510,610 L512,622 L505,621ZM527,629 L536,631 L535,637 L527,637ZM546,634 L557,632 L559,640 L549,641ZM388,744 L412,740 L439,736 L457,732 L474,730 L481,732 L481,735 L457,737 L439,739 L412,743 L390,747ZM371,754 L385,752 L386,758 L377,761 L372,758Z" fill="#2366ff"/><g clip-path="url(#de)"><path clip-path="url(#c0_0)" d="M280,1155 L280,980 L370,945 L430,920 L465,910 L500,935 L560,930 L580,975 L550,995 L520,1015 L530,1045 L470,1055 L425,1065 L405,1090 L400,1155ZM490,1155 L495,1115 L520,1100 L515,1065 L560,1050 L590,1045 L630,1055 L640,1080 L680,1095 L730,1090 L775,1080 L810,1080 L830,1075 L885,1070 L885,1155Z" fill="#3399ff"/><path clip-path="url(#c782_0)" d="M980,800 L975,830 L960,860 L940,870 L920,875 L880,900 L875,910 L920,915 L950,910 L940,940 L925,970 L910,1000 L910,1030 L900,1050 L880,1070 L860,1080 L840,1095 L820,1115 L800,1140 L780,1155 L1130,1155 L1130,800Z" fill="#3399ff"/><path clip-path="url(#c0_1080)" d="M280,1000 L885,1000 L885,1605 L280,1605Z" fill="#3399ff"/><path clip-path="url(#c782_1080)" d="M680,1000 L1285,1000 L1285,1605 L680,1605Z" fill="#3399ff"/><path clip-path="url(#c0_1080)" d="M400,1090 L430,1060 L490,1050 L530,1035 L540,1070 L525,1100 L490,1120 L445,1125 L415,1135 L400,1115ZM310,1185 L345,1170 L390,1165 L405,1190 L400,1220 L420,1250 L450,1280 L480,1300 L490,1350 L470,1365 L405,1355 L355,1345 L325,1300 L310,1240ZM430,1565 L425,1490 L445,1430 L470,1390 L500,1380 L540,1400 L580,1410 L600,1380 L630,1375 L660,1370 L680,1380 L675,1410 L660,1430 L640,1440 L660,1500 L670,1550 L660,1605 L430,1605ZM660,1500 L690,1475 L730,1480 L780,1495 L830,1505 L885,1510 L885,1605 L660,1605ZM630,1150 L650,1130 L690,1130 L730,1140 L780,1120 L805,1125 L810,1150 L780,1170 L730,1180 L680,1180 L640,1180ZM560,1220 L590,1200 L620,1165 L650,1170 L660,1200 L640,1235 L630,1280 L600,1300 L560,1280Z" fill="#2366ff"/><path clip-path="url(#c782_1080)" d="M680,1465 L740,1480 L805,1480 L820,1500 L865,1505 L890,1510 L915,1530 L925,1605 L680,1605ZM865,1280 L890,1320 L920,1340 L950,1360 L980,1380 L985,1420 L950,1435 L930,1460 L910,1475 L925,1450 L920,1420 L930,1390 L920,1370 L900,1345 L880,1320ZM680,1005 L710,1015 L755,1030 L765,1080 L800,1100 L830,1100 L825,1065 L830,1030 L870,1010 L900,1030 L900,1000 L680,1000ZM840,1150 L880,1140 L920,1120 L960,1115 L1000,1090 L1010,1100 L980,1120 L940,1135 L900,1160 L860,1180 L845,1200ZM830,1025 L870,1010 L905,1030 L915,1060 L895,1085 L860,1090 L840,1065ZM680,1110 L710,1115 L740,1130 L735,1165 L710,1190 L680,1190Z" fill="#2366ff"/><path clip-path="url(#c0_0)" d="M310,1010 L340,1005 L380,1000 L410,1015 L395,1040 L355,1050 L340,1090 L370,1110 L380,1140 L340,1145 L310,1125 L300,1075Z" fill="#66aaff"/><path clip-path="url(#c0_1080)" d="M395,1165 L430,1155 L470,1150 L500,1150 L530,1145 L545,1160 L535,1190 L500,1200 L460,1205 L420,1200 L400,1185ZM690,1240 L720,1230 L750,1235 L745,1270 L710,1280 L690,1270ZM760,1220 L785,1220 L795,1235 L775,1245 L760,1235Z" fill="#66aaff"/><path clip-path="url(#c782_0)" d="M980,855 L960,900 L960,930 L965,990 L945,1025 L940,1045 L980,1040 L1030,1015 L1030,850ZM920,1050 L960,1040 L1030,1030 L1055,1050 L1050,1100 L990,1090 L960,1100 L920,1105 L915,1080Z" fill="#66aaff"/><path clip-path="url(#c782_1080)" d="M695,1240 L710,1230 L735,1235 L745,1260 L725,1275 L700,1270ZM915,1100 L930,1070 L970,1050 L1000,1030 L1030,1030 L1050,1045 L1050,1100 L1030,1105 L1010,1085 L980,1100 L940,1110Z" fill="#66aaff"/></g><path d="M528,584 L544,582 L562,585 L577,588 L589,587 L604,587 L614,595 L629,600 L636,603 L639,614 L638,624 L631,632 L624,639 L641,638 L651,646 L668,649 L686,654 L696,660 L708,654 L719,649 L719,634 L726,631 L735,636 L738,646 L723,649 L719,654 L722,669 L718,681 L698,694 L701,701 L708,711 L718,709 L735,704 L740,709 L748,710 L753,694 L765,681 L767,679 L785,676 L805,673 L820,659 L827,647 L832,632 L847,637 L869,636 L877,614 L886,606 L901,602 L904,612 L914,614 L921,616 L921,624 L919,634 L929,646 L926,654 L914,649 L901,654 L899,662 L909,676 L919,672 L929,667 L939,676 L948,686 L970,699 L971,706 L948,709 L966,716 L976,724 L978,743 L986,766 L992,788 L991,810 L978,825 L979,820 L974,827 L974,845 L994,860 L1013,875 L1016,887 L1013,894 L1023,907 L1026,919 L1026,939 L1032,944 L1028,964 L1022,976 L1031,989 L1036,1004 L1036,1011 L1053,1018 L1058,1028 L1064,1048 L1070,1061 L1061,1078 L1053,1093 L1048,1108 L1038,1105 L1033,1098 L1023,1083 L1013,1083 L1005,1080 L1002,1090 L1011,1098 L1008,1103 L994,1110 L974,1118 L920,1149 L913,1159 L893,1172 L880,1169 L863,1177 L853,1187 L843,1197 L841,1209 L833,1199 L826,1189 L823,1197 L836,1214 L846,1226 L861,1236 L866,1244 L856,1259 L856,1268 L866,1278 L875,1298 L888,1313 L905,1318 L889,1317 L902,1316 L924,1343 L936,1347 L946,1360 L959,1364 L973,1374 L983,1387 L983,1414 L978,1423 L968,1417 L954,1429 L949,1444 L939,1454 L921,1459 L911,1471 L897,1481 L904,1496 L916,1513 L911,1533 L926,1536 L924,1565 L914,1560 L902,1550 L897,1541 L874,1546 L867,1539 L852,1538 L847,1550 L817,1553 L792,1558 L763,1581 L738,1583 L728,1568 L703,1561 L691,1561 L688,1578 L676,1596 L666,1600 L664,1588 L656,1581 L654,1568 L634,1548 L629,1566 L609,1568 L584,1551 L559,1548 L560,1547 L549,1551 L546,1546 L534,1540 L528,1533 L520,1532 L509,1537 L505,1546 L508,1550 L515,1551 L523,1551 L522,1555 L511,1561 L498,1562 L494,1557 L483,1557 L459,1558 L450,1558 L436,1565 L431,1557 L424,1546 L429,1516 L431,1488 L436,1476 L444,1459 L449,1434 L454,1419 L468,1404 L478,1394 L488,1374 L473,1369 L464,1364 L441,1362 L426,1350 L419,1347 L409,1352 L389,1352 L374,1345 L357,1342 L347,1317 L339,1308 L330,1300 L332,1285 L342,1273 L342,1261 L322,1248 L312,1236 L312,1216 L317,1201 L325,1194 L334,1186 L332,1174 L320,1164 L325,1149 L317,1139 L312,1124 L315,1112 L300,1102 L295,1092 L302,1087 L320,1077 L315,1062 L325,1050 L325,1030 L325,1043 L322,1023 L312,1008 L310,1001 L307,988 L322,981 L344,986 L372,978 L379,976 L377,966 L369,958 L387,944 L399,936 L399,914 L392,906 L372,906 L369,896 L372,884 L400,883 L404,853 L409,838 L412,814 L412,794 L422,791 L400,786 L402,764 L407,759 L414,747 L439,743 L474,739 L481,739 L491,754 L489,764 L486,770 L485,776 L496,783 L502,771 L501,757 L511,757 L519,747 L524,724 L536,719 L558,724 L557,724 L552,711 L546,701 L554,694 L549,689 L544,679 L540,667 L526,659 L530,652 L549,643 L557,638 L554,634 L546,622 L540,610 L531,596ZM511,561 L517,564 L514,570 L508,577 L508,585 L517,586 L518,590 L505,591 L504,603 L502,590 L504,575ZM512,605 L526,603 L528,611 L515,612ZM504,611 L510,610 L512,622 L505,621ZM527,629 L536,631 L535,637 L527,637ZM546,634 L557,632 L559,640 L549,641ZM388,744 L412,740 L439,736 L457,732 L474,730 L481,732 L481,735 L457,737 L439,739 L412,743 L390,747ZM371,754 L385,752 L386,758 L377,761 L372,758Z" fill="none" stroke="#000" stroke-width="2"/><path d="M582,722 L599,750 L617,762 L624,772 L636,777 L649,772 L661,779 L674,784 L688,787M622,740 L639,747 L651,740 L654,757 L659,769 L649,772M622,740 L617,762M688,787 L688,774 L698,767 L711,747 L711,712 L706,700M687,785 L719,794 L732,813 L748,823 L764,832M748,823 L764,807 L789,794 L802,785 L821,788 L847,794 L875,804 L901,791 L926,772 L934,758 L941,751 L948,761 L966,766 L976,768 L973,783 L968,786 L978,788 L991,778M306,988 L321,982 L344,985 L369,976 L376,960 L401,937 L439,918 L446,906 L458,918 L471,925 L484,944 L468,960 L477,963 L496,960 L516,944 L512,928 L503,912 L516,906 L532,902 L535,915 L547,918 L557,909 L566,906 L560,937 L566,947 L576,969 L595,992 L589,1020M516,807 L535,813 L554,816 L557,832 L541,832 L532,820 L516,807M589,1020 L570,1030 L551,1039 L532,1058 L525,1071 L532,1077M589,1020 L611,1023 L614,1046 L614,1058 L630,1055M764,832 L742,842 L716,851 L700,858 L710,883 L716,899 L722,925 L726,944 L713,960 L691,966 L691,988 L697,1007 L694,1020M694,1020 L662,1030 L636,1052 L630,1055M694,1020 L716,1026 L726,1046 L754,1055 L764,1077 L789,1090 L821,1093 L834,1106M901,992 L904,1007 L885,1011 L853,1014 L828,1026 L824,1046 L828,1071 L834,1106M764,832 L783,836 L799,845 L818,851 L821,867 L818,893 L824,912 L824,931 L824,950 L843,963 L866,969 L891,972 L901,992M901,992 L904,1020 L917,1039 L948,1036 L971,1033 L980,1020 L1012,1017 L1038,1017 L1057,1023M894,890 L904,880 L923,880 L936,893 L945,899 L942,912 L929,906 L913,902 L901,899 L894,890M331,1188 L363,1176 L372,1153 L407,1137 L426,1128 L452,1118 L458,1115 L471,1131 L484,1153M535,1080 L522,1093 L512,1106 L496,1115 L484,1137 L484,1153M484,1153 L474,1172 L471,1188 L480,1201 L468,1214 L455,1230 L461,1239 L487,1236 L500,1233 L503,1246 L509,1271 L503,1287 L516,1293 L522,1303 L516,1322 L506,1341 L503,1366 L484,1373M522,1290 L528,1303 L544,1316 L560,1300 L566,1284 L582,1271 L595,1274M557,1226 L560,1246 L566,1265 L566,1284M557,1226 L576,1220 L595,1223 L598,1210 L617,1198 L624,1182 L646,1166 L649,1163M649,1163 L672,1172 L687,1185 L697,1204 L710,1191 L726,1188 L745,1191 L758,1169 L767,1172 L776,1182 L796,1179 L808,1169 L812,1156 L821,1153M659,1080 L656,1102 L640,1112 L636,1144 L649,1160M595,1274 L617,1271 L633,1284 L640,1296 L656,1303 L659,1335 L668,1360 L681,1386 L687,1411 L675,1417M675,1417 L673,1432 L659,1444 L651,1457 L659,1494 L656,1524 L659,1548M328,1296 L353,1293 L382,1284 L407,1293 L410,1316 L417,1325 L414,1341 L426,1354M764,1080 L783,1090 L805,1086 L821,1096 L834,1090 L853,1090 L866,1109 L853,1125 L840,1137 L834,1150 L821,1153 L818,1172 L828,1188" fill="none" stroke="#000" stroke-width="2"/><circle cx="642.5" cy="756.5" r="11.3" fill="#66aaff" stroke="#1a2a55" stroke-width="1.6"/><circle cx="543.5" cy="826.0" r="11.3" fill="#99ccff" stroke="#1a2a55" stroke-width="1.6"/><circle cx="443.5" cy="976.0" r="11.3" fill="#99ccff" stroke="#1a2a55" stroke-width="1.6"/><circle cx="518.5" cy="966.0" r="11.3" fill="#99ccff" stroke="#1a2a55" stroke-width="1.6"/><circle cx="947.5" cy="845.0" r="11.3" fill="#66aaff" stroke="#1a2a55" stroke-width="1.6"/><circle cx="930.0" cy="867.5" r="11.3" fill="#99ccff" stroke="#1a2a55" stroke-width="1.6"/><circle cx="922.5" cy="888.5" r="11.3" fill="#ffffcc" stroke="#1a2a55" stroke-width="1.6"/><circle cx="915.0" cy="901.0" r="11.3" fill="#a000e0" stroke="#1a2a55" stroke-width="1.6"/><circle cx="887.5" cy="907.5" r="11.3" fill="#66aaff" stroke="#1a2a55" stroke-width="1.6"/><circle cx="847.5" cy="907.5" r="11.3" fill="#66aaff" stroke="#1a2a55" stroke-width="1.6"/><circle cx="1011.5" cy="907.5" r="11.3" fill="#99ccff" stroke="#1a2a55" stroke-width="1.6"/><circle cx="773.5" cy="948.5" r="11.3" fill="#66aaff" stroke="#1a2a55" stroke-width="1.6"/><circle cx="727.5" cy="982.5" r="11.3" fill="#b3e0ff" stroke="#1a2a55" stroke-width="1.6"/><circle cx="761.0" cy="998.5" r="11.3" fill="#99ccff" stroke="#1a2a55" stroke-width="1.6"/><circle cx="855.0" cy="979.0" r="11.3" fill="#99ccff" stroke="#1a2a55" stroke-width="1.6"/><circle cx="999.0" cy="986.5" r="11.3" fill="#ffffcc" stroke="#1a2a55" stroke-width="1.6"/><circle cx="409.0" cy="1025.0" r="11.3" fill="#99ccff" stroke="#1a2a55" stroke-width="1.6"/><circle cx="369.0" cy="1034.0" r="11.3" fill="#ffffcc" stroke="#1a2a55" stroke-width="1.6"/><circle cx="431.5" cy="1031.5" r="11.3" fill="#ffffcc" stroke="#1a2a55" stroke-width="1.6"/><circle cx="391.5" cy="1037.5" r="11.3" fill="#ffff00" stroke="#1a2a55" stroke-width="1.6"/><circle cx="429.0" cy="1053.5" r="11.3" fill="#b3e0ff" stroke="#1a2a55" stroke-width="1.6"/><circle cx="363.5" cy="1054.0" r="11.3" fill="#a00000" stroke="#1a2a55" stroke-width="1.6"/><circle cx="371.5" cy="1072.5" r="11.3" fill="#ffff00" stroke="#1a2a55" stroke-width="1.6"/><circle cx="343.5" cy="1077.5" r="11.3" fill="#ffffcc" stroke="#1a2a55" stroke-width="1.6"/><circle cx="402.5" cy="1066.0" r="11.3" fill="#99ccff" stroke="#1a2a55" stroke-width="1.6"/><circle cx="390.0" cy="1106.0" r="11.3" fill="#99ccff" stroke="#1a2a55" stroke-width="1.6"/><circle cx="312.5" cy="1129.0" r="11.3" fill="#ffff00" stroke="#1a2a55" stroke-width="1.6"/><circle cx="346.0" cy="1125.0" r="11.3" fill="#99ccff" stroke="#1a2a55" stroke-width="1.6"/><circle cx="599.0" cy="1061.5" r="11.3" fill="#b3e0ff" stroke="#1a2a55" stroke-width="1.6"/><circle cx="635.0" cy="1031.5" r="11.3" fill="#99ccff" stroke="#1a2a55" stroke-width="1.6"/><circle cx="531.0" cy="1220.0" r="11.3" fill="#ffffcc" stroke="#1a2a55" stroke-width="1.6"/><circle cx="494.0" cy="1236.5" r="11.3" fill="#b3e0ff" stroke="#1a2a55" stroke-width="1.6"/><circle cx="529.0" cy="1254.0" r="11.3" fill="#ffffcc" stroke="#1a2a55" stroke-width="1.6"/><circle cx="571.5" cy="1241.5" r="11.3" fill="#99ccff" stroke="#1a2a55" stroke-width="1.6"/><circle cx="639.0" cy="1265.0" r="11.3" fill="#99ccff" stroke="#1a2a55" stroke-width="1.6"/><circle cx="511.0" cy="1304.0" r="11.3" fill="#99ccff" stroke="#1a2a55" stroke-width="1.6"/><circle cx="530.0" cy="1316.0" r="11.3" fill="#99ccff" stroke="#1a2a55" stroke-width="1.6"/><circle cx="663.0" cy="1229.0" r="11.3" fill="#99ccff" stroke="#1a2a55" stroke-width="1.6"/><circle cx="580.0" cy="1362.5" r="11.3" fill="#ffffcc" stroke="#1a2a55" stroke-width="1.6"/><circle cx="577.5" cy="1350.0" r="11.3" fill="#ffff00" stroke="#1a2a55" stroke-width="1.6"/><circle cx="575.0" cy="1374.0" r="11.3" fill="#ffff00" stroke="#1a2a55" stroke-width="1.6"/><circle cx="502.5" cy="1369.0" r="11.3" fill="#99ccff" stroke="#1a2a55" stroke-width="1.6"/><circle cx="521.0" cy="1366.5" r="11.3" fill="#b3e0ff" stroke="#1a2a55" stroke-width="1.6"/><circle cx="530.0" cy="1386.0" r="11.3" fill="#99ccff" stroke="#1a2a55" stroke-width="1.6"/><circle cx="545.0" cy="1377.5" r="11.3" fill="#b3e0ff" stroke="#1a2a55" stroke-width="1.6"/><circle cx="562.5" cy="1384.0" r="11.3" fill="#ffa500" stroke="#1a2a55" stroke-width="1.6"/><circle cx="575.0" cy="1383.5" r="11.3" fill="#ff0000" stroke="#1a2a55" stroke-width="1.6"/><circle cx="575.0" cy="1398.5" r="11.3" fill="#a000e0" stroke="#1a2a55" stroke-width="1.6"/><circle cx="556.5" cy="1433.0" r="11.3" fill="#ffff00" stroke="#1a2a55" stroke-width="1.6"/><circle cx="576.5" cy="1438.5" r="11.3" fill="#ff0000" stroke="#1a2a55" stroke-width="1.6"/><circle cx="646.0" cy="1451.0" r="11.3" fill="#b3e0ff" stroke="#1a2a55" stroke-width="1.6"/><circle cx="455.0" cy="1501.0" r="11.3" fill="#99ccff" stroke="#1a2a55" stroke-width="1.6"/><circle cx="761.0" cy="1002.5" r="11.3" fill="#99ccff" stroke="#1a2a55" stroke-width="1.6"/><circle cx="806.5" cy="1034.0" r="11.3" fill="#66aaff" stroke="#1a2a55" stroke-width="1.6"/><circle cx="836.5" cy="1051.5" r="11.3" fill="#ffa500" stroke="#1a2a55" stroke-width="1.6"/><circle cx="851.5" cy="1079.0" r="11.3" fill="#99ccff" stroke="#1a2a55" stroke-width="1.6"/><circle cx="684.0" cy="1074.0" r="11.3" fill="#ffff00" stroke="#1a2a55" stroke-width="1.6"/><circle cx="728.5" cy="1103.5" r="11.3" fill="#ffffcc" stroke="#1a2a55" stroke-width="1.6"/><circle cx="754.0" cy="1103.5" r="11.3" fill="#ffffcc" stroke="#1a2a55" stroke-width="1.6"/><circle cx="887.5" cy="1116.0" r="11.3" fill="#b3e0ff" stroke="#1a2a55" stroke-width="1.6"/><circle cx="956.5" cy="1089.0" r="11.3" fill="#ffffcc" stroke="#1a2a55" stroke-width="1.6"/><circle cx="956.5" cy="1081.5" r="11.3" fill="#ffffcc" stroke="#1a2a55" stroke-width="1.6"/><circle cx="1060.0" cy="1062.5" r="11.3" fill="#ffffcc" stroke="#1a2a55" stroke-width="1.6"/><circle cx="854.0" cy="1134.0" r="11.3" fill="#b3e0ff" stroke="#1a2a55" stroke-width="1.6"/><circle cx="825.0" cy="1166.5" r="11.3" fill="#66aaff" stroke="#1a2a55" stroke-width="1.6"/><circle cx="806.0" cy="1190.0" r="11.3" fill="#66aaff" stroke="#1a2a55" stroke-width="1.6"/><circle cx="779.0" cy="1241.5" r="11.3" fill="#66aaff" stroke="#1a2a55" stroke-width="1.6"/><circle cx="731.5" cy="1286.5" r="11.3" fill="#99ccff" stroke="#1a2a55" stroke-width="1.6"/><circle cx="730.0" cy="1305.0" r="11.3" fill="#99ccff" stroke="#1a2a55" stroke-width="1.6"/><circle cx="695.0" cy="1327.5" r="11.3" fill="#99ccff" stroke="#1a2a55" stroke-width="1.6"/><circle cx="830.0" cy="1362.5" r="11.3" fill="#99ccff" stroke="#1a2a55" stroke-width="1.6"/><circle cx="837.5" cy="1426.0" r="11.3" fill="#99ccff" stroke="#1a2a55" stroke-width="1.6"/><circle cx="950.0" cy="1415.0" r="11.3" fill="#99ccff" stroke="#1a2a55" stroke-width="1.6"/><circle cx="899.0" cy="1471.5" r="11.3" fill="#66aaff" stroke="#1a2a55" stroke-width="1.6"/><circle cx="726.0" cy="1453.5" r="11.3" fill="#b3e0ff" stroke="#1a2a55" stroke-width="1.6"/><circle cx="785.0" cy="1480.0" r="11.3" fill="#ffa500" stroke="#1a2a55" stroke-width="1.6"/></g>
<g transform="translate(2000,0)"><path d="M466,676 L478,676 L472,682Z M516,711 L521,711 L521,716 L516,716Z" fill="#000"/><path d="M528,584 L544,582 L562,585 L577,588 L589,587 L604,587 L614,595 L629,600 L636,603 L639,614 L638,624 L631,632 L624,639 L641,638 L651,646 L668,649 L686,654 L696,660 L708,654 L719,649 L719,634 L726,631 L735,636 L738,646 L723,649 L719,654 L722,669 L718,681 L698,694 L701,701 L708,711 L718,709 L735,704 L740,709 L748,710 L753,694 L765,681 L767,679 L785,676 L805,673 L820,659 L827,647 L832,632 L847,637 L869,636 L877,614 L886,606 L901,602 L904,612 L914,614 L921,616 L921,624 L919,634 L929,646 L926,654 L914,649 L901,654 L899,662 L909,676 L919,672 L929,667 L939,676 L948,686 L970,699 L971,706 L948,709 L966,716 L976,724 L978,743 L986,766 L992,788 L991,810 L978,825 L979,820 L974,827 L974,845 L994,860 L1013,875 L1016,887 L1013,894 L1023,907 L1026,919 L1026,939 L1032,944 L1028,964 L1022,976 L1031,989 L1036,1004 L1036,1011 L1053,1018 L1058,1028 L1064,1048 L1070,1061 L1061,1078 L1053,1093 L1048,1108 L1038,1105 L1033,1098 L1023,1083 L1013,1083 L1005,1080 L1002,1090 L1011,1098 L1008,1103 L994,1110 L974,1118 L920,1149 L913,1159 L893,1172 L880,1169 L863,1177 L853,1187 L843,1197 L841,1209 L833,1199 L826,1189 L823,1197 L836,1214 L846,1226 L861,1236 L866,1244 L856,1259 L856,1268 L866,1278 L875,1298 L888,1313 L905,1318 L889,1317 L902,1316 L924,1343 L936,1347 L946,1360 L959,1364 L973,1374 L983,1387 L983,1414 L978,1423 L968,1417 L954,1429 L949,1444 L939,1454 L921,1459 L911,1471 L897,1481 L904,1496 L916,1513 L911,1533 L926,1536 L924,1565 L914,1560 L902,1550 L897,1541 L874,1546 L867,1539 L852,1538 L847,1550 L817,1553 L792,1558 L763,1581 L738,1583 L728,1568 L703,1561 L691,1561 L688,1578 L676,1596 L666,1600 L664,1588 L656,1581 L654,1568 L634,1548 L629,1566 L609,1568 L584,1551 L559,1548 L560,1547 L549,1551 L546,1546 L534,1540 L528,1533 L520,1532 L509,1537 L505,1546 L508,1550 L515,1551 L523,1551 L522,1555 L511,1561 L498,1562 L494,1557 L483,1557 L459,1558 L450,1558 L436,1565 L431,1557 L424,1546 L429,1516 L431,1488 L436,1476 L444,1459 L449,1434 L454,1419 L468,1404 L478,1394 L488,1374 L473,1369 L464,1364 L441,1362 L426,1350 L419,1347 L409,1352 L389,1352 L374,1345 L357,1342 L347,1317 L339,1308 L330,1300 L332,1285 L342,1273 L342,1261 L322,1248 L312,1236 L312,1216 L317,1201 L325,1194 L334,1186 L332,1174 L320,1164 L325,1149 L317,1139 L312,1124 L315,1112 L300,1102 L295,1092 L302,1087 L320,1077 L315,1062 L325,1050 L325,1030 L325,1043 L322,1023 L312,1008 L310,1001 L307,988 L322,981 L344,986 L372,978 L379,976 L377,966 L369,958 L387,944 L399,936 L399,914 L392,906 L372,906 L369,896 L372,884 L400,883 L404,853 L409,838 L412,814 L412,794 L422,791 L400,786 L402,764 L407,759 L414,747 L439,743 L474,739 L481,739 L491,754 L489,764 L486,770 L485,776 L496,783 L502,771 L501,757 L511,757 L519,747 L524,724 L536,719 L558,724 L557,724 L552,711 L546,701 L554,694 L549,689 L544,679 L540,667 L526,659 L530,652 L549,643 L557,638 L554,634 L546,622 L540,610 L531,596ZM511,561 L517,564 L514,570 L508,577 L508,585 L517,586 L518,590 L505,591 L504,603 L502,590 L504,575ZM512,605 L526,603 L528,611 L515,612ZM504,611 L510,610 L512,622 L505,621ZM527,629 L536,631 L535,637 L527,637ZM546,634 L557,632 L559,640 L549,641ZM388,744 L412,740 L439,736 L457,732 L474,730 L481,732 L481,735 L457,737 L439,739 L412,743 L390,747ZM371,754 L385,752 L386,758 L377,761 L372,758Z" fill="#2366ff"/><g clip-path="url(#de)"><path clip-path="url(#c0_0)" d="M280,550 L885,550 L885,1155 L280,1155Z" fill="#3399ff"/><path clip-path="url(#c782_0)" d="M680,550 L1285,550 L1285,1155 L680,1155Z" fill="#3399ff"/><path clip-path="url(#c0_0)" d="M525,580 L640,580 L640,630 L600,650 L560,675 L530,660ZM495,715 L540,720 L580,730 L600,765 L640,785 L680,795 L670,820 L630,830 L590,840 L560,850 L550,880 L530,870 L520,840 L490,810 L470,780 L480,750ZM370,935 L410,930 L440,950 L470,965 L490,990 L520,1000 L560,995 L600,980 L640,975 L680,985 L695,1015 L660,1030 L630,1045 L600,1075 L590,1100 L580,1155 L405,1155 L400,1115 L420,1085 L395,1050 L360,1015 L340,985ZM850,635 L885,625 L885,760 L860,750 L850,700ZM670,740 L710,730 L730,760 L730,810 L690,820 L670,790Z" fill="#2366ff"/><path clip-path="url(#c782_0)" d="M830,650 L890,640 L930,670 L970,700 L960,740 L930,750 L890,765 L855,760 L860,720ZM870,595 L920,595 L940,650 L890,660ZM680,760 L710,770 L725,810 L710,830 L680,830Z" fill="#2366ff"/><path clip-path="url(#c0_0)" d="M330,1030 L370,1015 L410,1025 L430,1050 L430,1080 L400,1090 L360,1095 L335,1080ZM600,910 L640,900 L680,910 L660,935 L610,935ZM710,850 L770,835 L820,845 L840,810 L885,800 L885,1155 L645,1155 L640,1090 L670,1055 L710,1020 L720,985 L710,950 L720,910 L710,875Z" fill="#66aaff"/><path clip-path="url(#c782_0)" d="M700,850 L750,815 L800,785 L880,800 L940,760 L980,765 L1000,800 L1030,850 L1040,950 L1040,1025 L1070,1050 L1060,1100 L1000,1125 L930,1155 L700,1155Z" fill="#66aaff"/><path clip-path="url(#c0_0)" d="M750,890 L780,870 L810,880 L820,930 L820,1000 L810,1040 L780,1080 L770,1050 L750,1010 L740,950ZM840,870 L885,865 L885,920 L850,910ZM670,1095 L710,1080 L760,1090 L800,1115 L780,1155 L670,1155Z" fill="#99ccff"/><path clip-path="url(#c782_0)" d="M780,920 L820,900 L860,875 L900,870 L940,875 L980,860 L1000,890 L1020,930 L1030,990 L1030,1025 L980,1040 L930,1035 L910,1010 L890,1000 L860,980 L830,960 L790,990 L770,1030 L755,1050 L755,980 L770,940ZM960,1045 L1000,1030 L1040,1025 L1060,1050 L1050,1100 L1010,1090 L980,1080Z" fill="#99ccff"/><path clip-path="url(#c782_0)" d="M870,935 L900,930 L940,940 L930,960 L880,960Z" fill="#66aaff"/><path clip-path="url(#c782_0)" d="M960,900 L990,870 L1010,900 L1025,950 L1025,1000 L990,990 L970,950Z" fill="#b3e0ff"/><path clip-path="url(#c782_0)" d="M1000,915 L1020,915 L1025,940 L1005,940Z" fill="#ffffcc"/><path clip-path="url(#c0_1080)" d="M280,1000 L885,1000 L885,1605 L280,1605Z" fill="#2366ff"/><path clip-path="url(#c782_1080)" d="M680,1000 L1285,1000 L1285,1605 L680,1605Z" fill="#2366ff"/><path clip-path="url(#c782_1080)" d="M680,1105 L825,1105 L825,1145 L800,1150 L750,1130 L710,1135 L680,1125Z" fill="#3399ff"/><path clip-path="url(#c0_1080)" d="M280,1000 L430,1010 L460,1030 L470,1060 L430,1085 L400,1100 L410,1130 L430,1150 L455,1170 L470,1200 L430,1210 L400,1180 L370,1165 L340,1160 L280,1160ZM330,1270 L380,1280 L410,1300 L430,1330 L380,1350 L340,1340ZM500,1320 L540,1310 L580,1280 L630,1260 L690,1225 L730,1210 L780,1200 L830,1200 L885,1190 L885,1540 L830,1530 L780,1520 L730,1505 L690,1500 L670,1500 L660,1550 L630,1560 L600,1550 L560,1540 L500,1540 L440,1530 L430,1490 L450,1450 L470,1415 L500,1390 L520,1350ZM400,1145 L445,1140 L480,1165 L490,1200 L440,1210 L405,1190ZM640,1000 L885,1000 L885,1165 L830,1150 L780,1140 L730,1125 L670,1125 L640,1110Z" fill="#3399ff"/><path clip-path="url(#c782_1080)" d="M680,1190 L1285,1190 L1285,1605 L680,1605Z" fill="#3399ff"/><path clip-path="url(#c0_1080)" d="M460,1440 L500,1430 L540,1450 L590,1440 L610,1460 L600,1500 L580,1530 L530,1535 L480,1530 L460,1500ZM660,1505 L710,1505 L760,1520 L810,1530 L885,1530 L885,1605 L660,1605ZM845,1240 L885,1230 L885,1350 L855,1340Z" fill="#2366ff"/><path clip-path="url(#c782_1080)" d="M680,1125 L710,1135 L750,1130 L800,1150 L810,1170 L780,1185 L740,1190 L700,1210 L680,1240ZM810,1250 L850,1245 L880,1280 L900,1320 L930,1350 L960,1370 L985,1400 L980,1420 L950,1410 L930,1380 L890,1360 L860,1340 L840,1300 L820,1280ZM680,1490 L730,1500 L780,1505 L830,1515 L890,1530 L920,1535 L930,1605 L680,1605ZM845,1160 L890,1140 L930,1120 L970,1110 L1005,1095 L1010,1105 L960,1130 L910,1165 L870,1180Z" fill="#2366ff"/><path clip-path="url(#c0_1080)" d="M640,1035 L835,1020 L885,1030 L885,1120 L830,1115 L780,1100 L730,1090 L670,1100 L640,1090ZM810,1000 L885,1000 L885,1120 L830,1110ZM660,1000 L730,1000 L710,1030 L670,1030ZM755,1465 L800,1460 L805,1495 L760,1495Z" fill="#66aaff"/><path clip-path="url(#c782_1080)" d="M830,1030 L880,1010 L910,1040 L980,1020 L1040,1000 L1060,1030 L1060,1100 L1010,1090 L960,1110 L910,1130 L870,1145 L830,1150ZM680,1025 L730,1020 L760,1060 L800,1090 L830,1100 L820,1125 L780,1130 L730,1120 L680,1110ZM755,1480 L790,1455 L815,1475 L810,1495 L770,1495ZM860,1460 L890,1450 L910,1480 L880,1490Z" fill="#66aaff"/><path clip-path="url(#c782_1080)" d="M920,1000 L1040,1000 L1050,1050 L1000,1060 L960,1050 L920,1030ZM960,1080 L1060,1060 L1060,1110 L1000,1115Z" fill="#99ccff"/><path clip-path="url(#c0_1080)" d="M780,1000 L885,1000 L885,1080 L830,1070 L800,1030Z" fill="#99ccff"/></g><path d="M528,584 L544,582 L562,585 L577,588 L589,587 L604,587 L614,595 L629,600 L636,603 L639,614 L638,624 L631,632 L624,639 L641,638 L651,646 L668,649 L686,654 L696,660 L708,654 L719,649 L719,634 L726,631 L735,636 L738,646 L723,649 L719,654 L722,669 L718,681 L698,694 L701,701 L708,711 L718,709 L735,704 L740,709 L748,710 L753,694 L765,681 L767,679 L785,676 L805,673 L820,659 L827,647 L832,632 L847,637 L869,636 L877,614 L886,606 L901,602 L904,612 L914,614 L921,616 L921,624 L919,634 L929,646 L926,654 L914,649 L901,654 L899,662 L909,676 L919,672 L929,667 L939,676 L948,686 L970,699 L971,706 L948,709 L966,716 L976,724 L978,743 L986,766 L992,788 L991,810 L978,825 L979,820 L974,827 L974,845 L994,860 L1013,875 L1016,887 L1013,894 L1023,907 L1026,919 L1026,939 L1032,944 L1028,964 L1022,976 L1031,989 L1036,1004 L1036,1011 L1053,1018 L1058,1028 L1064,1048 L1070,1061 L1061,1078 L1053,1093 L1048,1108 L1038,1105 L1033,1098 L1023,1083 L1013,1083 L1005,1080 L1002,1090 L1011,1098 L1008,1103 L994,1110 L974,1118 L920,1149 L913,1159 L893,1172 L880,1169 L863,1177 L853,1187 L843,1197 L841,1209 L833,1199 L826,1189 L823,1197 L836,1214 L846,1226 L861,1236 L866,1244 L856,1259 L856,1268 L866,1278 L875,1298 L888,1313 L905,1318 L889,1317 L902,1316 L924,1343 L936,1347 L946,1360 L959,1364 L973,1374 L983,1387 L983,1414 L978,1423 L968,1417 L954,1429 L949,1444 L939,1454 L921,1459 L911,1471 L897,1481 L904,1496 L916,1513 L911,1533 L926,1536 L924,1565 L914,1560 L902,1550 L897,1541 L874,1546 L867,1539 L852,1538 L847,1550 L817,1553 L792,1558 L763,1581 L738,1583 L728,1568 L703,1561 L691,1561 L688,1578 L676,1596 L666,1600 L664,1588 L656,1581 L654,1568 L634,1548 L629,1566 L609,1568 L584,1551 L559,1548 L560,1547 L549,1551 L546,1546 L534,1540 L528,1533 L520,1532 L509,1537 L505,1546 L508,1550 L515,1551 L523,1551 L522,1555 L511,1561 L498,1562 L494,1557 L483,1557 L459,1558 L450,1558 L436,1565 L431,1557 L424,1546 L429,1516 L431,1488 L436,1476 L444,1459 L449,1434 L454,1419 L468,1404 L478,1394 L488,1374 L473,1369 L464,1364 L441,1362 L426,1350 L419,1347 L409,1352 L389,1352 L374,1345 L357,1342 L347,1317 L339,1308 L330,1300 L332,1285 L342,1273 L342,1261 L322,1248 L312,1236 L312,1216 L317,1201 L325,1194 L334,1186 L332,1174 L320,1164 L325,1149 L317,1139 L312,1124 L315,1112 L300,1102 L295,1092 L302,1087 L320,1077 L315,1062 L325,1050 L325,1030 L325,1043 L322,1023 L312,1008 L310,1001 L307,988 L322,981 L344,986 L372,978 L379,976 L377,966 L369,958 L387,944 L399,936 L399,914 L392,906 L372,906 L369,896 L372,884 L400,883 L404,853 L409,838 L412,814 L412,794 L422,791 L400,786 L402,764 L407,759 L414,747 L439,743 L474,739 L481,739 L491,754 L489,764 L486,770 L485,776 L496,783 L502,771 L501,757 L511,757 L519,747 L524,724 L536,719 L558,724 L557,724 L552,711 L546,701 L554,694 L549,689 L544,679 L540,667 L526,659 L530,652 L549,643 L557,638 L554,634 L546,622 L540,610 L531,596ZM511,561 L517,564 L514,570 L508,577 L508,585 L517,586 L518,590 L505,591 L504,603 L502,590 L504,575ZM512,605 L526,603 L528,611 L515,612ZM504,611 L510,610 L512,622 L505,621ZM527,629 L536,631 L535,637 L527,637ZM546,634 L557,632 L559,640 L549,641ZM388,744 L412,740 L439,736 L457,732 L474,730 L481,732 L481,735 L457,737 L439,739 L412,743 L390,747ZM371,754 L385,752 L386,758 L377,761 L372,758Z" fill="none" stroke="#000" stroke-width="2"/><path d="M582,722 L599,750 L617,762 L624,772 L636,777 L649,772 L661,779 L674,784 L688,787M622,740 L639,747 L651,740 L654,757 L659,769 L649,772M622,740 L617,762M688,787 L688,774 L698,767 L711,747 L711,712 L706,700M687,785 L719,794 L732,813 L748,823 L764,832M748,823 L764,807 L789,794 L802,785 L821,788 L847,794 L875,804 L901,791 L926,772 L934,758 L941,751 L948,761 L966,766 L976,768 L973,783 L968,786 L978,788 L991,778M306,988 L321,982 L344,985 L369,976 L376,960 L401,937 L439,918 L446,906 L458,918 L471,925 L484,944 L468,960 L477,963 L496,960 L516,944 L512,928 L503,912 L516,906 L532,902 L535,915 L547,918 L557,909 L566,906 L560,937 L566,947 L576,969 L595,992 L589,1020M516,807 L535,813 L554,816 L557,832 L541,832 L532,820 L516,807M589,1020 L570,1030 L551,1039 L532,1058 L525,1071 L532,1077M589,1020 L611,1023 L614,1046 L614,1058 L630,1055M764,832 L742,842 L716,851 L700,858 L710,883 L716,899 L722,925 L726,944 L713,960 L691,966 L691,988 L697,1007 L694,1020M694,1020 L662,1030 L636,1052 L630,1055M694,1020 L716,1026 L726,1046 L754,1055 L764,1077 L789,1090 L821,1093 L834,1106M901,992 L904,1007 L885,1011 L853,1014 L828,1026 L824,1046 L828,1071 L834,1106M764,832 L783,836 L799,845 L818,851 L821,867 L818,893 L824,912 L824,931 L824,950 L843,963 L866,969 L891,972 L901,992M901,992 L904,1020 L917,1039 L948,1036 L971,1033 L980,1020 L1012,1017 L1038,1017 L1057,1023M894,890 L904,880 L923,880 L936,893 L945,899 L942,912 L929,906 L913,902 L901,899 L894,890M331,1188 L363,1176 L372,1153 L407,1137 L426,1128 L452,1118 L458,1115 L471,1131 L484,1153M535,1080 L522,1093 L512,1106 L496,1115 L484,1137 L484,1153M484,1153 L474,1172 L471,1188 L480,1201 L468,1214 L455,1230 L461,1239 L487,1236 L500,1233 L503,1246 L509,1271 L503,1287 L516,1293 L522,1303 L516,1322 L506,1341 L503,1366 L484,1373M522,1290 L528,1303 L544,1316 L560,1300 L566,1284 L582,1271 L595,1274M557,1226 L560,1246 L566,1265 L566,1284M557,1226 L576,1220 L595,1223 L598,1210 L617,1198 L624,1182 L646,1166 L649,1163M649,1163 L672,1172 L687,1185 L697,1204 L710,1191 L726,1188 L745,1191 L758,1169 L767,1172 L776,1182 L796,1179 L808,1169 L812,1156 L821,1153M659,1080 L656,1102 L640,1112 L636,1144 L649,1160M595,1274 L617,1271 L633,1284 L640,1296 L656,1303 L659,1335 L668,1360 L681,1386 L687,1411 L675,1417M675,1417 L673,1432 L659,1444 L651,1457 L659,1494 L656,1524 L659,1548M328,1296 L353,1293 L382,1284 L407,1293 L410,1316 L417,1325 L414,1341 L426,1354M764,1080 L783,1090 L805,1086 L821,1096 L834,1090 L853,1090 L866,1109 L853,1125 L840,1137 L834,1150 L821,1153 L818,1172 L828,1188" fill="none" stroke="#000" stroke-width="2"/><circle cx="647.5" cy="661.0" r="11.3" fill="#66aaff" stroke="#1a2a55" stroke-width="1.6"/><circle cx="598.5" cy="711.0" r="11.3" fill="#66aaff" stroke="#1a2a55" stroke-width="1.6"/><circle cx="525.0" cy="757.5" r="11.3" fill="#66aaff" stroke="#1a2a55" stroke-width="1.6"/><circle cx="642.5" cy="756.5" r="11.3" fill="#99ccff" stroke="#1a2a55" stroke-width="1.6"/><circle cx="496.0" cy="815.0" r="11.3" fill="#66aaff" stroke="#1a2a55" stroke-width="1.6"/><circle cx="473.5" cy="835.0" r="11.3" fill="#66aaff" stroke="#1a2a55" stroke-width="1.6"/><circle cx="543.5" cy="826.0" r="11.3" fill="#99ccff" stroke="#1a2a55" stroke-width="1.6"/><circle cx="617.5" cy="920.0" r="11.3" fill="#b3e0ff" stroke="#1a2a55" stroke-width="1.6"/><circle cx="641.0" cy="910.0" r="11.3" fill="#99ccff" stroke="#1a2a55" stroke-width="1.6"/><circle cx="480.0" cy="932.5" r="11.3" fill="#66aaff" stroke="#1a2a55" stroke-width="1.6"/><circle cx="518.5" cy="966.0" r="11.3" fill="#66aaff" stroke="#1a2a55" stroke-width="1.6"/><circle cx="443.5" cy="976.0" r="11.3" fill="#66aaff" stroke="#1a2a55" stroke-width="1.6"/><circle cx="324.0" cy="981.5" r="11.3" fill="#b3e0ff" stroke="#1a2a55" stroke-width="1.6"/><circle cx="801.5" cy="685.0" r="11.3" fill="#99ccff" stroke="#1a2a55" stroke-width="1.6"/><circle cx="806.5" cy="685.0" r="11.3" fill="#b3e0ff" stroke="#1a2a55" stroke-width="1.6"/><circle cx="691.0" cy="718.5" r="11.3" fill="#66aaff" stroke="#1a2a55" stroke-width="1.6"/><circle cx="698.5" cy="741.0" r="11.3" fill="#99ccff" stroke="#1a2a55" stroke-width="1.6"/><circle cx="750.0" cy="749.0" r="11.3" fill="#99ccff" stroke="#1a2a55" stroke-width="1.6"/><circle cx="897.5" cy="751.5" r="11.3" fill="#66aaff" stroke="#1a2a55" stroke-width="1.6"/><circle cx="947.5" cy="845.0" r="11.3" fill="#ffff00" stroke="#1a2a55" stroke-width="1.6"/><circle cx="930.0" cy="867.5" r="11.3" fill="#ffff00" stroke="#1a2a55" stroke-width="1.6"/><circle cx="907.5" cy="895.0" r="11.3" fill="#ffff00" stroke="#1a2a55" stroke-width="1.6"/><circle cx="923.5" cy="889.0" r="11.3" fill="#ffa500" stroke="#1a2a55" stroke-width="1.6"/><circle cx="916.5" cy="901.5" r="11.3" fill="#ffa500" stroke="#1a2a55" stroke-width="1.6"/><circle cx="847.5" cy="907.5" r="11.3" fill="#b3e0ff" stroke="#1a2a55" stroke-width="1.6"/><circle cx="890.0" cy="907.5" r="11.3" fill="#ffffcc" stroke="#1a2a55" stroke-width="1.6"/><circle cx="1011.5" cy="907.5" r="11.3" fill="#ff0000" stroke="#1a2a55" stroke-width="1.6"/><circle cx="775.0" cy="948.5" r="11.3" fill="#ffff00" stroke="#1a2a55" stroke-width="1.6"/><circle cx="728.5" cy="982.5" r="11.3" fill="#ffffcc" stroke="#1a2a55" stroke-width="1.6"/><circle cx="761.0" cy="998.5" r="11.3" fill="#ffff00" stroke="#1a2a55" stroke-width="1.6"/><circle cx="856.0" cy="979.0" r="11.3" fill="#ffff00" stroke="#1a2a55" stroke-width="1.6"/><circle cx="1000.0" cy="986.5" r="11.3" fill="#ffff00" stroke="#1a2a55" stroke-width="1.6"/><circle cx="409.0" cy="1025.0" r="11.3" fill="#66aaff" stroke="#1a2a55" stroke-width="1.6"/><circle cx="431.5" cy="1031.5" r="11.3" fill="#99ccff" stroke="#1a2a55" stroke-width="1.6"/><circle cx="395.0" cy="1037.5" r="11.3" fill="#b3e0ff" stroke="#1a2a55" stroke-width="1.6"/><circle cx="382.5" cy="1039.0" r="11.3" fill="#99ccff" stroke="#1a2a55" stroke-width="1.6"/><circle cx="369.0" cy="1035.0" r="11.3" fill="#ffa500" stroke="#1a2a55" stroke-width="1.6"/><circle cx="429.0" cy="1053.5" r="11.3" fill="#99ccff" stroke="#1a2a55" stroke-width="1.6"/><circle cx="449.0" cy="1053.5" r="11.3" fill="#99ccff" stroke="#1a2a55" stroke-width="1.6"/><circle cx="362.5" cy="1054.0" r="11.3" fill="#ffffcc" stroke="#1a2a55" stroke-width="1.6"/><circle cx="352.5" cy="1059.0" r="11.3" fill="#99ccff" stroke="#1a2a55" stroke-width="1.6"/><circle cx="371.5" cy="1072.5" r="11.3" fill="#ffff00" stroke="#1a2a55" stroke-width="1.6"/><circle cx="345.0" cy="1077.5" r="11.3" fill="#99ccff" stroke="#1a2a55" stroke-width="1.6"/><circle cx="404.0" cy="1066.0" r="11.3" fill="#99ccff" stroke="#1a2a55" stroke-width="1.6"/><circle cx="386.0" cy="1106.5" r="11.3" fill="#99ccff" stroke="#1a2a55" stroke-width="1.6"/><circle cx="312.5" cy="1128.5" r="11.3" fill="#b3e0ff" stroke="#1a2a55" stroke-width="1.6"/><circle cx="635.0" cy="1031.5" r="11.3" fill="#99ccff" stroke="#1a2a55" stroke-width="1.6"/><circle cx="677.5" cy="1019.0" r="11.3" fill="#99ccff" stroke="#1a2a55" stroke-width="1.6"/><circle cx="679.0" cy="1074.0" r="11.3" fill="#ff0000" stroke="#1a2a55" stroke-width="1.6"/><circle cx="515.0" cy="1160.0" r="11.3" fill="#ffffcc" stroke="#1a2a55" stroke-width="1.6"/><circle cx="439.0" cy="1187.5" r="11.3" fill="#66aaff" stroke="#1a2a55" stroke-width="1.6"/><circle cx="495.0" cy="1236.5" r="11.3" fill="#99ccff" stroke="#1a2a55" stroke-width="1.6"/><circle cx="544.0" cy="1260.0" r="11.3" fill="#99ccff" stroke="#1a2a55" stroke-width="1.6"/><circle cx="530.0" cy="1255.0" r="11.3" fill="#b3e0ff" stroke="#1a2a55" stroke-width="1.6"/><circle cx="502.5" cy="1286.5" r="11.3" fill="#99ccff" stroke="#1a2a55" stroke-width="1.6"/><circle cx="511.0" cy="1306.0" r="11.3" fill="#99ccff" stroke="#1a2a55" stroke-width="1.6"/><circle cx="530.0" cy="1316.0" r="11.3" fill="#b3e0ff" stroke="#1a2a55" stroke-width="1.6"/><circle cx="663.0" cy="1229.0" r="11.3" fill="#66aaff" stroke="#1a2a55" stroke-width="1.6"/><circle cx="639.0" cy="1265.0" r="11.3" fill="#99ccff" stroke="#1a2a55" stroke-width="1.6"/><circle cx="436.0" cy="1341.5" r="11.3" fill="#66aaff" stroke="#1a2a55" stroke-width="1.6"/><circle cx="577.5" cy="1350.0" r="11.3" fill="#a00000" stroke="#1a2a55" stroke-width="1.6"/><circle cx="501.5" cy="1367.5" r="11.3" fill="#99ccff" stroke="#1a2a55" stroke-width="1.6"/><circle cx="520.0" cy="1367.5" r="11.3" fill="#ffffcc" stroke="#1a2a55" stroke-width="1.6"/><circle cx="530.0" cy="1386.0" r="11.3" fill="#99ccff" stroke="#1a2a55" stroke-width="1.6"/><circle cx="545.0" cy="1377.5" r="11.3" fill="#ffffcc" stroke="#1a2a55" stroke-width="1.6"/><circle cx="575.0" cy="1373.5" r="11.3" fill="#ffffcc" stroke="#1a2a55" stroke-width="1.6"/><circle cx="564.0" cy="1384.0" r="11.3" fill="#a00000" stroke="#1a2a55" stroke-width="1.6"/><circle cx="557.5" cy="1398.5" r="11.3" fill="#ff0000" stroke="#1a2a55" stroke-width="1.6"/><circle cx="575.0" cy="1398.5" r="11.3" fill="#a000e0" stroke="#1a2a55" stroke-width="1.6"/><circle cx="592.5" cy="1415.0" r="11.3" fill="#ffffcc" stroke="#1a2a55" stroke-width="1.6"/><circle cx="546.5" cy="1425.0" r="11.3" fill="#ffffcc" stroke="#1a2a55" stroke-width="1.6"/><circle cx="562.5" cy="1434.0" r="11.3" fill="#ffff00" stroke="#1a2a55" stroke-width="1.6"/><circle cx="577.5" cy="1438.5" r="11.3" fill="#a000e0" stroke="#1a2a55" stroke-width="1.6"/><circle cx="646.5" cy="1450.0" r="11.3" fill="#ffff00" stroke="#1a2a55" stroke-width="1.6"/><circle cx="455.0" cy="1504.0" r="11.3" fill="#66aaff" stroke="#1a2a55" stroke-width="1.6"/><circle cx="621.0" cy="1562.5" r="11.3" fill="#99ccff" stroke="#1a2a55" stroke-width="1.6"/><circle cx="761.5" cy="1001.5" r="11.3" fill="#ffff00" stroke="#1a2a55" stroke-width="1.6"/><circle cx="806.5" cy="1031.5" r="11.3" fill="#ff0000" stroke="#1a2a55" stroke-width="1.6"/><circle cx="839.0" cy="1050.0" r="11.3" fill="#ffffcc" stroke="#1a2a55" stroke-width="1.6"/><circle cx="836.5" cy="1051.5" r="11.3" fill="#ffff00" stroke="#1a2a55" stroke-width="1.6"/><circle cx="808.0" cy="1071.5" r="11.3" fill="#99ccff" stroke="#1a2a55" stroke-width="1.6"/><circle cx="728.5" cy="1103.5" r="11.3" fill="#ffffcc" stroke="#1a2a55" stroke-width="1.6"/><circle cx="755.0" cy="1103.5" r="11.3" fill="#ffffcc" stroke="#1a2a55" stroke-width="1.6"/><circle cx="889.0" cy="1116.0" r="11.3" fill="#b3e0ff" stroke="#1a2a55" stroke-width="1.6"/><circle cx="956.5" cy="1089.0" r="11.3" fill="#ffffcc" stroke="#1a2a55" stroke-width="1.6"/><circle cx="956.5" cy="1081.5" r="11.3" fill="#ffffcc" stroke="#1a2a55" stroke-width="1.6"/><circle cx="1060.0" cy="1062.5" r="11.3" fill="#ffff00" stroke="#1a2a55" stroke-width="1.6"/><circle cx="854.0" cy="1134.0" r="11.3" fill="#ffffcc" stroke="#1a2a55" stroke-width="1.6"/><circle cx="825.0" cy="1166.5" r="11.3" fill="#66aaff" stroke="#1a2a55" stroke-width="1.6"/><circle cx="726.5" cy="1200.0" r="11.3" fill="#66aaff" stroke="#1a2a55" stroke-width="1.6"/><circle cx="780.0" cy="1241.5" r="11.3" fill="#66aaff" stroke="#1a2a55" stroke-width="1.6"/><circle cx="731.5" cy="1286.5" r="11.3" fill="#99ccff" stroke="#1a2a55" stroke-width="1.6"/><circle cx="730.0" cy="1305.0" r="11.3" fill="#99ccff" stroke="#1a2a55" stroke-width="1.6"/><circle cx="740.0" cy="1306.0" r="11.3" fill="#b3e0ff" stroke="#1a2a55" stroke-width="1.6"/><circle cx="735.0" cy="1310.0" r="11.3" fill="#b3e0ff" stroke="#1a2a55" stroke-width="1.6"/><circle cx="695.0" cy="1327.5" r="11.3" fill="#99ccff" stroke="#1a2a55" stroke-width="1.6"/><circle cx="831.5" cy="1274.0" r="11.3" fill="#66aaff" stroke="#1a2a55" stroke-width="1.6"/><circle cx="831.5" cy="1322.5" r="11.3" fill="#66aaff" stroke="#1a2a55" stroke-width="1.6"/><circle cx="830.0" cy="1362.5" r="11.3" fill="#99ccff" stroke="#1a2a55" stroke-width="1.6"/><circle cx="812.5" cy="1377.5" r="11.3" fill="#66aaff" stroke="#1a2a55" stroke-width="1.6"/><circle cx="839.0" cy="1426.5" r="11.3" fill="#b3e0ff" stroke="#1a2a55" stroke-width="1.6"/><circle cx="950.0" cy="1415.0" r="11.3" fill="#b3e0ff" stroke="#1a2a55" stroke-width="1.6"/><circle cx="900.0" cy="1471.5" r="11.3" fill="#ffffcc" stroke="#1a2a55" stroke-width="1.6"/><circle cx="726.5" cy="1453.5" r="11.3" fill="#ffff00" stroke="#1a2a55" stroke-width="1.6"/><circle cx="788.5" cy="1483.0" r="11.3" fill="#ffff00" stroke="#1a2a55" stroke-width="1.6"/><circle cx="785.5" cy="1480.0" r="11.3" fill="#a00000" stroke="#1a2a55" stroke-width="1.6"/><circle cx="846.5" cy="1545.0" r="11.3" fill="#99ccff" stroke="#1a2a55" stroke-width="1.6"/></g>
<g transform="translate(3000,0)"><path d="M466,676 L478,676 L472,682Z M516,711 L521,711 L521,716 L516,716Z" fill="#000"/><path d="M528,584 L544,582 L562,585 L577,588 L589,587 L604,587 L614,595 L629,600 L636,603 L639,614 L638,624 L631,632 L624,639 L641,638 L651,646 L668,649 L686,654 L696,660 L708,654 L719,649 L719,634 L726,631 L735,636 L738,646 L723,649 L719,654 L722,669 L718,681 L698,694 L701,701 L708,711 L718,709 L735,704 L740,709 L748,710 L753,694 L765,681 L767,679 L785,676 L805,673 L820,659 L827,647 L832,632 L847,637 L869,636 L877,614 L886,606 L901,602 L904,612 L914,614 L921,616 L921,624 L919,634 L929,646 L926,654 L914,649 L901,654 L899,662 L909,676 L919,672 L929,667 L939,676 L948,686 L970,699 L971,706 L948,709 L966,716 L976,724 L978,743 L986,766 L992,788 L991,810 L978,825 L979,820 L974,827 L974,845 L994,860 L1013,875 L1016,887 L1013,894 L1023,907 L1026,919 L1026,939 L1032,944 L1028,964 L1022,976 L1031,989 L1036,1004 L1036,1011 L1053,1018 L1058,1028 L1064,1048 L1070,1061 L1061,1078 L1053,1093 L1048,1108 L1038,1105 L1033,1098 L1023,1083 L1013,1083 L1005,1080 L1002,1090 L1011,1098 L1008,1103 L994,1110 L974,1118 L920,1149 L913,1159 L893,1172 L880,1169 L863,1177 L853,1187 L843,1197 L841,1209 L833,1199 L826,1189 L823,1197 L836,1214 L846,1226 L861,1236 L866,1244 L856,1259 L856,1268 L866,1278 L875,1298 L888,1313 L905,1318 L889,1317 L902,1316 L924,1343 L936,1347 L946,1360 L959,1364 L973,1374 L983,1387 L983,1414 L978,1423 L968,1417 L954,1429 L949,1444 L939,1454 L921,1459 L911,1471 L897,1481 L904,1496 L916,1513 L911,1533 L926,1536 L924,1565 L914,1560 L902,1550 L897,1541 L874,1546 L867,1539 L852,1538 L847,1550 L817,1553 L792,1558 L763,1581 L738,1583 L728,1568 L703,1561 L691,1561 L688,1578 L676,1596 L666,1600 L664,1588 L656,1581 L654,1568 L634,1548 L629,1566 L609,1568 L584,1551 L559,1548 L560,1547 L549,1551 L546,1546 L534,1540 L528,1533 L520,1532 L509,1537 L505,1546 L508,1550 L515,1551 L523,1551 L522,1555 L511,1561 L498,1562 L494,1557 L483,1557 L459,1558 L450,1558 L436,1565 L431,1557 L424,1546 L429,1516 L431,1488 L436,1476 L444,1459 L449,1434 L454,1419 L468,1404 L478,1394 L488,1374 L473,1369 L464,1364 L441,1362 L426,1350 L419,1347 L409,1352 L389,1352 L374,1345 L357,1342 L347,1317 L339,1308 L330,1300 L332,1285 L342,1273 L342,1261 L322,1248 L312,1236 L312,1216 L317,1201 L325,1194 L334,1186 L332,1174 L320,1164 L325,1149 L317,1139 L312,1124 L315,1112 L300,1102 L295,1092 L302,1087 L320,1077 L315,1062 L325,1050 L325,1030 L325,1043 L322,1023 L312,1008 L310,1001 L307,988 L322,981 L344,986 L372,978 L379,976 L377,966 L369,958 L387,944 L399,936 L399,914 L392,906 L372,906 L369,896 L372,884 L400,883 L404,853 L409,838 L412,814 L412,794 L422,791 L400,786 L402,764 L407,759 L414,747 L439,743 L474,739 L481,739 L491,754 L489,764 L486,770 L485,776 L496,783 L502,771 L501,757 L511,757 L519,747 L524,724 L536,719 L558,724 L557,724 L552,711 L546,701 L554,694 L549,689 L544,679 L540,667 L526,659 L530,652 L549,643 L557,638 L554,634 L546,622 L540,610 L531,596ZM511,561 L517,564 L514,570 L508,577 L508,585 L517,586 L518,590 L505,591 L504,603 L502,590 L504,575ZM512,605 L526,603 L528,611 L515,612ZM504,611 L510,610 L512,622 L505,621ZM527,629 L536,631 L535,637 L527,637ZM546,634 L557,632 L559,640 L549,641ZM388,744 L412,740 L439,736 L457,732 L474,730 L481,732 L481,735 L457,737 L439,739 L412,743 L390,747ZM371,754 L385,752 L386,758 L377,761 L372,758Z" fill="#2366ff"/><g clip-path="url(#de)"><path clip-path="url(#c0_0)" d="M280,550 L885,550 L885,1155 L280,1155Z" fill="#3399ff"/><path clip-path="url(#c782_0)" d="M680,550 L1285,550 L1285,1155 L680,1155Z" fill="#3399ff"/><path clip-path="url(#c0_0)" d="M530,580 L630,585 L630,615 L590,610 L560,625 L535,620ZM545,990 L580,965 L630,960 L680,965 L695,1000 L680,1030 L630,1045 L600,1050 L560,1030 L540,1010ZM420,1100 L450,1070 L500,1060 L560,1055 L590,1065 L630,1080 L660,1100 L660,1155 L420,1155Z" fill="#2366ff"/><path clip-path="url(#c0_0)" d="M560,700 L600,680 L640,690 L690,700 L700,730 L680,760 L630,780 L600,770 L590,740ZM710,715 L760,700 L810,680 L885,670 L885,1155 L660,1155 L650,1100 L660,1060 L700,1030 L720,1000 L710,960 L720,900 L710,850 L730,820 L720,775ZM310,990 L360,980 L420,990 L460,1000 L470,1040 L450,1070 L420,1090 L380,1115 L340,1130 L310,1100ZM470,1040 L500,1020 L540,1030 L560,1050 L510,1060 L480,1065Z" fill="#66aaff"/><path clip-path="url(#c782_0)" d="M720,650 L1285,650 L1285,1155 L830,1155 L805,1100 L740,1090 L720,1050Z" fill="#66aaff"/><path clip-path="url(#c782_0)" d="M840,665 L890,660 L920,690 L915,710 L870,710ZM830,1115 L890,1125 L940,1120 L980,1105 L1010,1090 L980,1120 L920,1155 L830,1155Z" fill="#3399ff"/><path clip-path="url(#c782_0)" d="M680,980 L700,990 L710,1020 L680,1030Z" fill="#2366ff"/><path clip-path="url(#c0_0)" d="M730,940 L760,920 L800,910 L820,950 L825,1000 L820,1050 L780,1070 L750,1040 L740,1000ZM650,1080 L700,1070 L750,1090 L780,1110 L780,1155 L660,1155ZM830,830 L885,820 L885,950 L850,930 L830,890ZM340,1025 L380,1015 L430,1015 L450,1040 L430,1070 L380,1080 L340,1080Z" fill="#99ccff"/><path clip-path="url(#c782_0)" d="M770,840 L820,850 L830,830 L870,820 L930,800 L960,760 L990,770 L990,850 L1030,880 L1030,1000 L990,1030 L930,1040 L910,1030 L890,990 L840,960 L830,930 L800,910 L755,900 L750,860ZM720,910 L780,910 L810,930 L830,960 L870,990 L900,1020 L880,1030 L830,1050 L810,1100 L770,1080 L740,1030 L715,990ZM920,1050 L980,1035 L1040,1020 L1060,1050 L1050,1100 L1000,1090 L960,1080Z" fill="#99ccff"/><path clip-path="url(#c782_0)" d="M920,920 L960,900 L990,880 L1025,890 L1030,990 L1000,1020 L950,1030 L920,1010Z" fill="#b3e0ff"/><path clip-path="url(#c782_0)" d="M960,960 L990,920 L1020,920 L1030,980 L1010,1000 L965,990ZM990,1010 L1015,1008 L1015,1020 L990,1020Z" fill="#ffffcc"/><path clip-path="url(#c0_1080)" d="M280,1000 L885,1000 L885,1605 L280,1605Z" fill="#2366ff"/><path clip-path="url(#c782_1080)" d="M680,1000 L1285,1000 L1285,1605 L680,1605Z" fill="#2366ff"/><path clip-path="url(#c0_1080)" d="M280,1000 L560,1000 L560,1030 L510,1055 L450,1060 L415,1090 L400,1130 L380,1150 L330,1160 L280,1160ZM380,1160 L435,1140 L490,1150 L500,1190 L520,1210 L560,1220 L600,1230 L640,1240 L650,1280 L580,1290 L540,1310 L510,1350 L500,1380 L440,1360 L390,1340 L340,1310 L335,1270 L380,1240 L400,1210ZM640,1000 L885,1000 L885,1190 L780,1165 L720,1170 L680,1150 L640,1130ZM690,1240 L730,1200 L780,1190 L830,1200 L860,1240 L885,1260 L885,1380 L830,1380 L800,1400 L780,1380 L730,1350 L710,1320 L700,1280ZM705,1445 L750,1440 L750,1470 L710,1470ZM760,1465 L810,1465 L810,1495 L760,1495ZM855,1440 L885,1440 L885,1505 L855,1500Z" fill="#3399ff"/><path clip-path="url(#c0_1080)" d="M650,1120 L710,1115 L755,1130 L760,1165 L710,1170 L660,1150Z" fill="#2366ff"/><path clip-path="url(#c0_1080)" d="M320,1030 L340,1010 L460,1010 L470,1040 L430,1055 L400,1075 L395,1115 L370,1130 L320,1125 L310,1090ZM395,1165 L440,1150 L470,1160 L480,1200 L445,1210 L410,1200ZM760,1210 L800,1210 L800,1240 L765,1240ZM640,1030 L720,1020 L780,1045 L885,1075 L885,1125 L830,1115 L780,1100 L730,1090 L680,1085 L645,1080Z" fill="#66aaff"/><path clip-path="url(#c0_1080)" d="M340,1030 L360,1020 L445,1020 L450,1045 L410,1060 L380,1100 L350,1095ZM760,1000 L885,1000 L885,1075 L830,1065 L780,1045Z" fill="#99ccff"/><path clip-path="url(#c782_1080)" d="M680,1000 L1080,1000 L1080,1190 L680,1190ZM690,1240 L710,1210 L755,1200 L805,1195 L830,1210 L840,1260 L840,1350 L830,1380 L790,1400 L770,1360 L730,1330 L700,1300ZM855,1470 L890,1450 L920,1460 L910,1490 L870,1500ZM760,1475 L795,1460 L810,1485 L790,1500 L760,1495ZM705,1440 L735,1435 L740,1465 L710,1465Z" fill="#3399ff"/><path clip-path="url(#c782_1080)" d="M680,1000 L1060,1000 L1060,1100 L1005,1095 L950,1120 L900,1145 L860,1155 L830,1165 L800,1150 L760,1145 L710,1130 L680,1120ZM760,1215 L790,1210 L800,1235 L780,1245 L765,1235Z" fill="#66aaff"/><path clip-path="url(#c782_1080)" d="M760,1000 L900,1000 L920,1030 L980,1020 L1040,1000 L1060,1030 L1060,1100 L1030,1090 L1000,1075 L960,1065 L910,1080 L870,1085 L830,1095 L790,1085 L765,1050Z" fill="#99ccff"/><path clip-path="url(#c782_1080)" d="M920,1000 L1030,1000 L1030,1020 L980,1035 L930,1030Z" fill="#b3e0ff"/><path clip-path="url(#c782_1080)" d="M680,1125 L720,1130 L755,1150 L760,1175 L720,1190 L680,1190ZM845,1160 L900,1150 L940,1130 L980,1115 L1010,1100 L960,1130 L910,1165 L870,1185Z" fill="#2366ff"/></g><path d="M528,584 L544,582 L562,585 L577,588 L589,587 L604,587 L614,595 L629,600 L636,603 L639,614 L638,624 L631,632 L624,639 L641,638 L651,646 L668,649 L686,654 L696,660 L708,654 L719,649 L719,634 L726,631 L735,636 L738,646 L723,649 L719,654 L722,669 L718,681 L698,694 L701,701 L708,711 L718,709 L735,704 L740,709 L748,710 L753,694 L765,681 L767,679 L785,676 L805,673 L820,659 L827,647 L832,632 L847,637 L869,636 L877,614 L886,606 L901,602 L904,612 L914,614 L921,616 L921,624 L919,634 L929,646 L926,654 L914,649 L901,654 L899,662 L909,676 L919,672 L929,667 L939,676 L948,686 L970,699 L971,706 L948,709 L966,716 L976,724 L978,743 L986,766 L992,788 L991,810 L978,825 L979,820 L974,827 L974,845 L994,860 L1013,875 L1016,887 L1013,894 L1023,907 L1026,919 L1026,939 L1032,944 L1028,964 L1022,976 L1031,989 L1036,1004 L1036,1011 L1053,1018 L1058,1028 L1064,1048 L1070,1061 L1061,1078 L1053,1093 L1048,1108 L1038,1105 L1033,1098 L1023,1083 L1013,1083 L1005,1080 L1002,1090 L1011,1098 L1008,1103 L994,1110 L974,1118 L920,1149 L913,1159 L893,1172 L880,1169 L863,1177 L853,1187 L843,1197 L841,1209 L833,1199 L826,1189 L823,1197 L836,1214 L846,1226 L861,1236 L866,1244 L856,1259 L856,1268 L866,1278 L875,1298 L888,1313 L905,1318 L889,1317 L902,1316 L924,1343 L936,1347 L946,1360 L959,1364 L973,1374 L983,1387 L983,1414 L978,1423 L968,1417 L954,1429 L949,1444 L939,1454 L921,1459 L911,1471 L897,1481 L904,1496 L916,1513 L911,1533 L926,1536 L924,1565 L914,1560 L902,1550 L897,1541 L874,1546 L867,1539 L852,1538 L847,1550 L817,1553 L792,1558 L763,1581 L738,1583 L728,1568 L703,1561 L691,1561 L688,1578 L676,1596 L666,1600 L664,1588 L656,1581 L654,1568 L634,1548 L629,1566 L609,1568 L584,1551 L559,1548 L560,1547 L549,1551 L546,1546 L534,1540 L528,1533 L520,1532 L509,1537 L505,1546 L508,1550 L515,1551 L523,1551 L522,1555 L511,1561 L498,1562 L494,1557 L483,1557 L459,1558 L450,1558 L436,1565 L431,1557 L424,1546 L429,1516 L431,1488 L436,1476 L444,1459 L449,1434 L454,1419 L468,1404 L478,1394 L488,1374 L473,1369 L464,1364 L441,1362 L426,1350 L419,1347 L409,1352 L389,1352 L374,1345 L357,1342 L347,1317 L339,1308 L330,1300 L332,1285 L342,1273 L342,1261 L322,1248 L312,1236 L312,1216 L317,1201 L325,1194 L334,1186 L332,1174 L320,1164 L325,1149 L317,1139 L312,1124 L315,1112 L300,1102 L295,1092 L302,1087 L320,1077 L315,1062 L325,1050 L325,1030 L325,1043 L322,1023 L312,1008 L310,1001 L307,988 L322,981 L344,986 L372,978 L379,976 L377,966 L369,958 L387,944 L399,936 L399,914 L392,906 L372,906 L369,896 L372,884 L400,883 L404,853 L409,838 L412,814 L412,794 L422,791 L400,786 L402,764 L407,759 L414,747 L439,743 L474,739 L481,739 L491,754 L489,764 L486,770 L485,776 L496,783 L502,771 L501,757 L511,757 L519,747 L524,724 L536,719 L558,724 L557,724 L552,711 L546,701 L554,694 L549,689 L544,679 L540,667 L526,659 L530,652 L549,643 L557,638 L554,634 L546,622 L540,610 L531,596ZM511,561 L517,564 L514,570 L508,577 L508,585 L517,586 L518,590 L505,591 L504,603 L502,590 L504,575ZM512,605 L526,603 L528,611 L515,612ZM504,611 L510,610 L512,622 L505,621ZM527,629 L536,631 L535,637 L527,637ZM546,634 L557,632 L559,640 L549,641ZM388,744 L412,740 L439,736 L457,732 L474,730 L481,732 L481,735 L457,737 L439,739 L412,743 L390,747ZM371,754 L385,752 L386,758 L377,761 L372,758Z" fill="none" stroke="#000" stroke-width="2"/><path d="M582,722 L599,750 L617,762 L624,772 L636,777 L649,772 L661,779 L674,784 L688,787M622,740 L639,747 L651,740 L654,757 L659,769 L649,772M622,740 L617,762M688,787 L688,774 L698,767 L711,747 L711,712 L706,700M687,785 L719,794 L732,813 L748,823 L764,832M748,823 L764,807 L789,794 L802,785 L821,788 L847,794 L875,804 L901,791 L926,772 L934,758 L941,751 L948,761 L966,766 L976,768 L973,783 L968,786 L978,788 L991,778M306,988 L321,982 L344,985 L369,976 L376,960 L401,937 L439,918 L446,906 L458,918 L471,925 L484,944 L468,960 L477,963 L496,960 L516,944 L512,928 L503,912 L516,906 L532,902 L535,915 L547,918 L557,909 L566,906 L560,937 L566,947 L576,969 L595,992 L589,1020M516,807 L535,813 L554,816 L557,832 L541,832 L532,820 L516,807M589,1020 L570,1030 L551,1039 L532,1058 L525,1071 L532,1077M589,1020 L611,1023 L614,1046 L614,1058 L630,1055M764,832 L742,842 L716,851 L700,858 L710,883 L716,899 L722,925 L726,944 L713,960 L691,966 L691,988 L697,1007 L694,1020M694,1020 L662,1030 L636,1052 L630,1055M694,1020 L716,1026 L726,1046 L754,1055 L764,1077 L789,1090 L821,1093 L834,1106M901,992 L904,1007 L885,1011 L853,1014 L828,1026 L824,1046 L828,1071 L834,1106M764,832 L783,836 L799,845 L818,851 L821,867 L818,893 L824,912 L824,931 L824,950 L843,963 L866,969 L891,972 L901,992M901,992 L904,1020 L917,1039 L948,1036 L971,1033 L980,1020 L1012,1017 L1038,1017 L1057,1023M894,890 L904,880 L923,880 L936,893 L945,899 L942,912 L929,906 L913,902 L901,899 L894,890M331,1188 L363,1176 L372,1153 L407,1137 L426,1128 L452,1118 L458,1115 L471,1131 L484,1153M535,1080 L522,1093 L512,1106 L496,1115 L484,1137 L484,1153M484,1153 L474,1172 L471,1188 L480,1201 L468,1214 L455,1230 L461,1239 L487,1236 L500,1233 L503,1246 L509,1271 L503,1287 L516,1293 L522,1303 L516,1322 L506,1341 L503,1366 L484,1373M522,1290 L528,1303 L544,1316 L560,1300 L566,1284 L582,1271 L595,1274M557,1226 L560,1246 L566,1265 L566,1284M557,1226 L576,1220 L595,1223 L598,1210 L617,1198 L624,1182 L646,1166 L649,1163M649,1163 L672,1172 L687,1185 L697,1204 L710,1191 L726,1188 L745,1191 L758,1169 L767,1172 L776,1182 L796,1179 L808,1169 L812,1156 L821,1153M659,1080 L656,1102 L640,1112 L636,1144 L649,1160M595,1274 L617,1271 L633,1284 L640,1296 L656,1303 L659,1335 L668,1360 L681,1386 L687,1411 L675,1417M675,1417 L673,1432 L659,1444 L651,1457 L659,1494 L656,1524 L659,1548M328,1296 L353,1293 L382,1284 L407,1293 L410,1316 L417,1325 L414,1341 L426,1354M764,1080 L783,1090 L805,1086 L821,1096 L834,1090 L853,1090 L866,1109 L853,1125 L840,1137 L834,1150 L821,1153 L818,1172 L828,1188" fill="none" stroke="#000" stroke-width="2"/><circle cx="592.5" cy="598.5" r="11.3" fill="#99ccff" stroke="#1a2a55" stroke-width="1.6"/><circle cx="647.5" cy="661.0" r="11.3" fill="#b3e0ff" stroke="#1a2a55" stroke-width="1.6"/><circle cx="571.5" cy="716.5" r="11.3" fill="#99ccff" stroke="#1a2a55" stroke-width="1.6"/><circle cx="642.5" cy="756.5" r="11.3" fill="#ffff00" stroke="#1a2a55" stroke-width="1.6"/><circle cx="526.0" cy="757.5" r="11.3" fill="#99ccff" stroke="#1a2a55" stroke-width="1.6"/><circle cx="496.0" cy="815.0" r="11.3" fill="#99ccff" stroke="#1a2a55" stroke-width="1.6"/><circle cx="543.5" cy="826.0" r="11.3" fill="#ffff00" stroke="#1a2a55" stroke-width="1.6"/><circle cx="617.5" cy="920.0" r="11.3" fill="#99ccff" stroke="#1a2a55" stroke-width="1.6"/><circle cx="641.0" cy="910.0" r="11.3" fill="#b3e0ff" stroke="#1a2a55" stroke-width="1.6"/><circle cx="480.0" cy="932.5" r="11.3" fill="#99ccff" stroke="#1a2a55" stroke-width="1.6"/><circle cx="518.5" cy="966.0" r="11.3" fill="#99ccff" stroke="#1a2a55" stroke-width="1.6"/><circle cx="443.5" cy="976.0" r="11.3" fill="#99ccff" stroke="#1a2a55" stroke-width="1.6"/><circle cx="800.0" cy="674.0" r="11.3" fill="#99ccff" stroke="#1a2a55" stroke-width="1.6"/><circle cx="805.0" cy="685.0" r="11.3" fill="#ffffcc" stroke="#1a2a55" stroke-width="1.6"/><circle cx="692.5" cy="718.5" r="11.3" fill="#99ccff" stroke="#1a2a55" stroke-width="1.6"/><circle cx="698.5" cy="741.0" r="11.3" fill="#99ccff" stroke="#1a2a55" stroke-width="1.6"/><circle cx="750.0" cy="749.0" r="11.3" fill="#99ccff" stroke="#1a2a55" stroke-width="1.6"/><circle cx="897.5" cy="751.5" r="11.3" fill="#99ccff" stroke="#1a2a55" stroke-width="1.6"/><circle cx="948.5" cy="845.0" r="11.3" fill="#ffffcc" stroke="#1a2a55" stroke-width="1.6"/><circle cx="931.5" cy="867.5" r="11.3" fill="#ffff00" stroke="#1a2a55" stroke-width="1.6"/><circle cx="907.5" cy="892.5" r="11.3" fill="#ffffcc" stroke="#1a2a55" stroke-width="1.6"/><circle cx="923.5" cy="889.0" r="11.3" fill="#ffff00" stroke="#1a2a55" stroke-width="1.6"/><circle cx="915.0" cy="901.5" r="11.3" fill="#ffff00" stroke="#1a2a55" stroke-width="1.6"/><circle cx="922.5" cy="895.0" r="11.3" fill="#ffa500" stroke="#1a2a55" stroke-width="1.6"/><circle cx="890.0" cy="907.5" r="11.3" fill="#ffa500" stroke="#1a2a55" stroke-width="1.6"/><circle cx="1012.5" cy="907.5" r="11.3" fill="#ffa500" stroke="#1a2a55" stroke-width="1.6"/><circle cx="775.0" cy="950.0" r="11.3" fill="#ffa500" stroke="#1a2a55" stroke-width="1.6"/><circle cx="687.5" cy="932.5" r="11.3" fill="#99ccff" stroke="#1a2a55" stroke-width="1.6"/><circle cx="728.5" cy="982.5" r="11.3" fill="#ffffcc" stroke="#1a2a55" stroke-width="1.6"/><circle cx="762.5" cy="998.5" r="11.3" fill="#ffffcc" stroke="#1a2a55" stroke-width="1.6"/><circle cx="827.5" cy="985.0" r="11.3" fill="#b3e0ff" stroke="#1a2a55" stroke-width="1.6"/><circle cx="856.5" cy="979.0" r="11.3" fill="#ffff00" stroke="#1a2a55" stroke-width="1.6"/><circle cx="1001.0" cy="986.5" r="11.3" fill="#ffffcc" stroke="#1a2a55" stroke-width="1.6"/><circle cx="436.5" cy="1020.0" r="11.3" fill="#b3e0ff" stroke="#1a2a55" stroke-width="1.6"/><circle cx="382.5" cy="1030.0" r="11.3" fill="#ffff00" stroke="#1a2a55" stroke-width="1.6"/><circle cx="405.0" cy="1027.5" r="11.3" fill="#a00000" stroke="#1a2a55" stroke-width="1.6"/><circle cx="411.0" cy="1037.5" r="11.3" fill="#99ccff" stroke="#1a2a55" stroke-width="1.6"/><circle cx="442.5" cy="1042.5" r="11.3" fill="#ffffcc" stroke="#1a2a55" stroke-width="1.6"/><circle cx="392.5" cy="1037.5" r="11.3" fill="#ffff00" stroke="#1a2a55" stroke-width="1.6"/><circle cx="371.5" cy="1034.0" r="11.3" fill="#ffa500" stroke="#1a2a55" stroke-width="1.6"/><circle cx="399.0" cy="1031.0" r="11.3" fill="#a000e0" stroke="#1a2a55" stroke-width="1.6"/><circle cx="431.5" cy="1031.5" r="11.3" fill="#ffff00" stroke="#1a2a55" stroke-width="1.6"/><circle cx="431.5" cy="1053.5" r="11.3" fill="#ffff00" stroke="#1a2a55" stroke-width="1.6"/><circle cx="365.0" cy="1054.0" r="11.3" fill="#ffff00" stroke="#1a2a55" stroke-width="1.6"/><circle cx="372.5" cy="1072.5" r="11.3" fill="#ffffcc" stroke="#1a2a55" stroke-width="1.6"/><circle cx="404.0" cy="1066.0" r="11.3" fill="#99ccff" stroke="#1a2a55" stroke-width="1.6"/><circle cx="344.0" cy="1077.5" r="11.3" fill="#ffffcc" stroke="#1a2a55" stroke-width="1.6"/><circle cx="387.5" cy="1106.5" r="11.3" fill="#99ccff" stroke="#1a2a55" stroke-width="1.6"/><circle cx="391.5" cy="1106.5" r="11.3" fill="#b3e0ff" stroke="#1a2a55" stroke-width="1.6"/><circle cx="325.0" cy="1130.0" r="11.3" fill="#99ccff" stroke="#1a2a55" stroke-width="1.6"/><circle cx="312.5" cy="1128.5" r="11.3" fill="#b3e0ff" stroke="#1a2a55" stroke-width="1.6"/><circle cx="636.0" cy="1031.5" r="11.3" fill="#99ccff" stroke="#1a2a55" stroke-width="1.6"/><circle cx="677.5" cy="1019.0" r="11.3" fill="#99ccff" stroke="#1a2a55" stroke-width="1.6"/><circle cx="600.0" cy="1061.5" r="11.3" fill="#b3e0ff" stroke="#1a2a55" stroke-width="1.6"/><circle cx="539.0" cy="1129.0" r="11.3" fill="#99ccff" stroke="#1a2a55" stroke-width="1.6"/><circle cx="532.5" cy="1159.0" r="11.3" fill="#b3e0ff" stroke="#1a2a55" stroke-width="1.6"/><circle cx="516.0" cy="1160.0" r="11.3" fill="#ffa500" stroke="#1a2a55" stroke-width="1.6"/><circle cx="617.5" cy="1163.5" r="11.3" fill="#b3e0ff" stroke="#1a2a55" stroke-width="1.6"/><circle cx="663.0" cy="1229.0" r="11.3" fill="#99ccff" stroke="#1a2a55" stroke-width="1.6"/><circle cx="641.0" cy="1265.0" r="11.3" fill="#ffffcc" stroke="#1a2a55" stroke-width="1.6"/><circle cx="492.5" cy="1225.0" r="11.3" fill="#b3e0ff" stroke="#1a2a55" stroke-width="1.6"/><circle cx="495.0" cy="1236.5" r="11.3" fill="#ffffcc" stroke="#1a2a55" stroke-width="1.6"/><circle cx="532.5" cy="1220.0" r="11.3" fill="#ffffcc" stroke="#1a2a55" stroke-width="1.6"/><circle cx="545.0" cy="1260.0" r="11.3" fill="#99ccff" stroke="#1a2a55" stroke-width="1.6"/><circle cx="530.0" cy="1255.0" r="11.3" fill="#ffffcc" stroke="#1a2a55" stroke-width="1.6"/><circle cx="503.5" cy="1286.5" r="11.3" fill="#b3e0ff" stroke="#1a2a55" stroke-width="1.6"/><circle cx="511.5" cy="1306.0" r="11.3" fill="#b3e0ff" stroke="#1a2a55" stroke-width="1.6"/><circle cx="531.5" cy="1316.0" r="11.3" fill="#99ccff" stroke="#1a2a55" stroke-width="1.6"/><circle cx="383.5" cy="1337.5" r="11.3" fill="#b3e0ff" stroke="#1a2a55" stroke-width="1.6"/><circle cx="579.0" cy="1350.0" r="11.3" fill="#ffa500" stroke="#1a2a55" stroke-width="1.6"/><circle cx="580.0" cy="1363.5" r="11.3" fill="#ffffcc" stroke="#1a2a55" stroke-width="1.6"/><circle cx="505.0" cy="1369.0" r="11.3" fill="#99ccff" stroke="#1a2a55" stroke-width="1.6"/><circle cx="520.0" cy="1369.0" r="11.3" fill="#99ccff" stroke="#1a2a55" stroke-width="1.6"/><circle cx="545.0" cy="1377.5" r="11.3" fill="#b3e0ff" stroke="#1a2a55" stroke-width="1.6"/><circle cx="575.0" cy="1383.5" r="11.3" fill="#ffff00" stroke="#1a2a55" stroke-width="1.6"/><circle cx="565.0" cy="1384.0" r="11.3" fill="#ffa500" stroke="#1a2a55" stroke-width="1.6"/><circle cx="557.5" cy="1398.5" r="11.3" fill="#ffffcc" stroke="#1a2a55" stroke-width="1.6"/><circle cx="577.5" cy="1398.5" r="11.3" fill="#a000e0" stroke="#1a2a55" stroke-width="1.6"/><circle cx="546.5" cy="1425.0" r="11.3" fill="#99ccff" stroke="#1a2a55" stroke-width="1.6"/><circle cx="562.5" cy="1434.0" r="11.3" fill="#ffa500" stroke="#1a2a55" stroke-width="1.6"/><circle cx="578.5" cy="1438.5" r="11.3" fill="#a00000" stroke="#1a2a55" stroke-width="1.6"/><circle cx="647.5" cy="1450.0" r="11.3" fill="#ffffcc" stroke="#1a2a55" stroke-width="1.6"/><circle cx="456.5" cy="1505.0" r="11.3" fill="#66aaff" stroke="#1a2a55" stroke-width="1.6"/><circle cx="621.5" cy="1562.5" r="11.3" fill="#99ccff" stroke="#1a2a55" stroke-width="1.6"/><circle cx="761.5" cy="1001.5" r="11.3" fill="#ffffcc" stroke="#1a2a55" stroke-width="1.6"/><circle cx="807.5" cy="1031.5" r="11.3" fill="#ff0000" stroke="#1a2a55" stroke-width="1.6"/><circle cx="839.0" cy="1050.0" r="11.3" fill="#a00000" stroke="#1a2a55" stroke-width="1.6"/><circle cx="809.0" cy="1071.5" r="11.3" fill="#b3e0ff" stroke="#1a2a55" stroke-width="1.6"/><circle cx="852.5" cy="1079.0" r="11.3" fill="#b3e0ff" stroke="#1a2a55" stroke-width="1.6"/><circle cx="684.0" cy="1074.0" r="11.3" fill="#ffa500" stroke="#1a2a55" stroke-width="1.6"/><circle cx="728.5" cy="1103.5" r="11.3" fill="#ffffcc" stroke="#1a2a55" stroke-width="1.6"/><circle cx="755.0" cy="1103.5" r="11.3" fill="#ffff00" stroke="#1a2a55" stroke-width="1.6"/><circle cx="889.0" cy="1116.0" r="11.3" fill="#ffffcc" stroke="#1a2a55" stroke-width="1.6"/><circle cx="957.5" cy="1081.5" r="11.3" fill="#ffffcc" stroke="#1a2a55" stroke-width="1.6"/><circle cx="957.5" cy="1089.0" r="11.3" fill="#ffff00" stroke="#1a2a55" stroke-width="1.6"/><circle cx="1061.0" cy="1062.5" r="11.3" fill="#ffff00" stroke="#1a2a55" stroke-width="1.6"/><circle cx="855.0" cy="1134.0" r="11.3" fill="#ffa500" stroke="#1a2a55" stroke-width="1.6"/><circle cx="703.5" cy="1153.5" r="11.3" fill="#66aaff" stroke="#1a2a55" stroke-width="1.6"/><circle cx="826.0" cy="1166.5" r="11.3" fill="#b3e0ff" stroke="#1a2a55" stroke-width="1.6"/><circle cx="727.5" cy="1200.0" r="11.3" fill="#66aaff" stroke="#1a2a55" stroke-width="1.6"/><circle cx="831.5" cy="1274.0" r="11.3" fill="#66aaff" stroke="#1a2a55" stroke-width="1.6"/><circle cx="734.0" cy="1306.5" r="11.3" fill="#b3e0ff" stroke="#1a2a55" stroke-width="1.6"/><circle cx="739.0" cy="1309.0" r="11.3" fill="#b3e0ff" stroke="#1a2a55" stroke-width="1.6"/><circle cx="696.0" cy="1327.5" r="11.3" fill="#66aaff" stroke="#1a2a55" stroke-width="1.6"/><circle cx="831.5" cy="1362.5" r="11.3" fill="#b3e0ff" stroke="#1a2a55" stroke-width="1.6"/><circle cx="812.5" cy="1377.5" r="11.3" fill="#99ccff" stroke="#1a2a55" stroke-width="1.6"/><circle cx="773.5" cy="1398.5" r="11.3" fill="#66aaff" stroke="#1a2a55" stroke-width="1.6"/><circle cx="839.0" cy="1426.5" r="11.3" fill="#99ccff" stroke="#1a2a55" stroke-width="1.6"/><circle cx="951.0" cy="1415.0" r="11.3" fill="#b3e0ff" stroke="#1a2a55" stroke-width="1.6"/><circle cx="901.0" cy="1471.5" r="11.3" fill="#99ccff" stroke="#1a2a55" stroke-width="1.6"/><circle cx="727.5" cy="1453.5" r="11.3" fill="#ffffcc" stroke="#1a2a55" stroke-width="1.6"/><circle cx="786.5" cy="1480.0" r="11.3" fill="#ffff00" stroke="#1a2a55" stroke-width="1.6"/></g>

<text x="323" y="670" font-size="54.5" font-weight="bold" font-family="Liberation Sans">2008</text>
<text x="1323" y="670" font-size="54.5" font-weight="bold" font-family="Liberation Sans">2009</text>
<text x="2323" y="670" font-size="54.5" font-weight="bold" font-family="Liberation Sans">2010</text>
<text x="3323" y="670" font-size="54.5" font-weight="bold" font-family="Liberation Sans">2011</text>
<text x="4191" y="882" font-size="43.5" font-weight="bold" font-family="Liberation Sans">Legende</text>
<rect x="4189.75" y="919.2" width="94" height="47" fill="#2366ff" stroke="#6b6b6b" stroke-width="3.5"/>
<text x="4312" y="954.5" font-size="30.5" font-family="Liberation Sans" fill="#111">0 - 7 Tage</text>
<rect x="4189.75" y="982.4" width="94" height="47" fill="#3399ff" stroke="#6b6b6b" stroke-width="3.5"/>
<text x="4312" y="1017.7" font-size="30.5" font-family="Liberation Sans" fill="#111">&gt; &nbsp; 7 Tage</text>
<rect x="4189.75" y="1045.6" width="94" height="47" fill="#66aaff" stroke="#6b6b6b" stroke-width="3.5"/>
<text x="4312" y="1080.9" font-size="30.5" font-family="Liberation Sans" fill="#111">&gt; 14 Tage</text>
<rect x="4189.75" y="1108.8" width="94" height="47" fill="#99ccff" stroke="#6b6b6b" stroke-width="3.5"/>
<text x="4312" y="1144.1" font-size="30.5" font-family="Liberation Sans" fill="#111">&gt; 21 Tage</text>
<rect x="4189.75" y="1172.0" width="94" height="47" fill="#b3e0ff" stroke="#6b6b6b" stroke-width="3.5"/>
<text x="4312" y="1207.3" font-size="30.5" font-family="Liberation Sans" fill="#111">&gt; 28 Tage</text>
<rect x="4189.75" y="1235.2" width="94" height="47" fill="#ffffcc" stroke="#6b6b6b" stroke-width="3.5"/>
<text x="4312" y="1270.5" font-size="30.5" font-family="Liberation Sans" fill="#111">&gt; 35 Tage</text>
<rect x="4189.75" y="1298.4" width="94" height="47" fill="#ffff00" stroke="#6b6b6b" stroke-width="3.5"/>
<text x="4312" y="1333.7" font-size="30.5" font-family="Liberation Sans" fill="#111">&gt; 42 Tage</text>
<rect x="4189.75" y="1361.6" width="94" height="47" fill="#ffa500" stroke="#6b6b6b" stroke-width="3.5"/>
<text x="4312" y="1396.9" font-size="30.5" font-family="Liberation Sans" fill="#111">&gt; 49 Tage</text>
<rect x="4189.75" y="1424.8" width="94" height="47" fill="#ff0000" stroke="#6b6b6b" stroke-width="3.5"/>
<text x="4312" y="1460.1" font-size="30.5" font-family="Liberation Sans" fill="#111">&gt; 56 Tage</text>
<rect x="4189.75" y="1488.0" width="94" height="47" fill="#a00000" stroke="#6b6b6b" stroke-width="3.5"/>
<text x="4312" y="1523.3" font-size="30.5" font-family="Liberation Sans" fill="#111">&gt; 63 Tage</text>
<rect x="4189.75" y="1551.2" width="94" height="47" fill="#a300e0" stroke="#6b6b6b" stroke-width="3.5"/>
<text x="4312" y="1586.5" font-size="30.5" font-family="Liberation Sans" fill="#111">&gt; 70 Tage</text>

<text x="124" y="1862" font-size="58" font-weight="bold" textLength="176" lengthAdjust="spacingAndGlyphs" font-family="Liberation Serif">Quelle:</text><text x="310" y="1862" font-size="58" textLength="571" lengthAdjust="spacingAndGlyphs" font-family="Liberation Serif" stroke="#000" stroke-width="0.8">Umweltbundesamt 2014</text>
<rect x="3863" y="1827" width="576" height="253" fill="#62ac35"/>
<rect x="3863" y="1827" width="52" height="253" fill="#00782a"/>
<text x="3978" y="1944" font-size="77" textLength="271" lengthAdjust="spacingAndGlyphs" font-weight="bold" font-family="Liberation Sans" fill="#fff">Umwelt</text>
<text x="3977" y="2012" font-size="77" textLength="397" lengthAdjust="spacingAndGlyphs" font-weight="bold" font-family="Liberation Sans" fill="#fff">Bundesamt</text>
<circle cx="4311.5" cy="1916" r="36.5" fill="#00782a"/><circle cx="4312" cy="1894" r="5.5" fill="#62ac35"/><path d="M4275,1909 Q4312,1901 4349,1909" stroke="#62ac35" stroke-width="7" fill="none"/><path d="M4305,1908 L4319,1908 L4316,1926 L4324,1953 L4300,1953 L4308,1926Z" fill="#62ac35"/>
</svg></body></html>
